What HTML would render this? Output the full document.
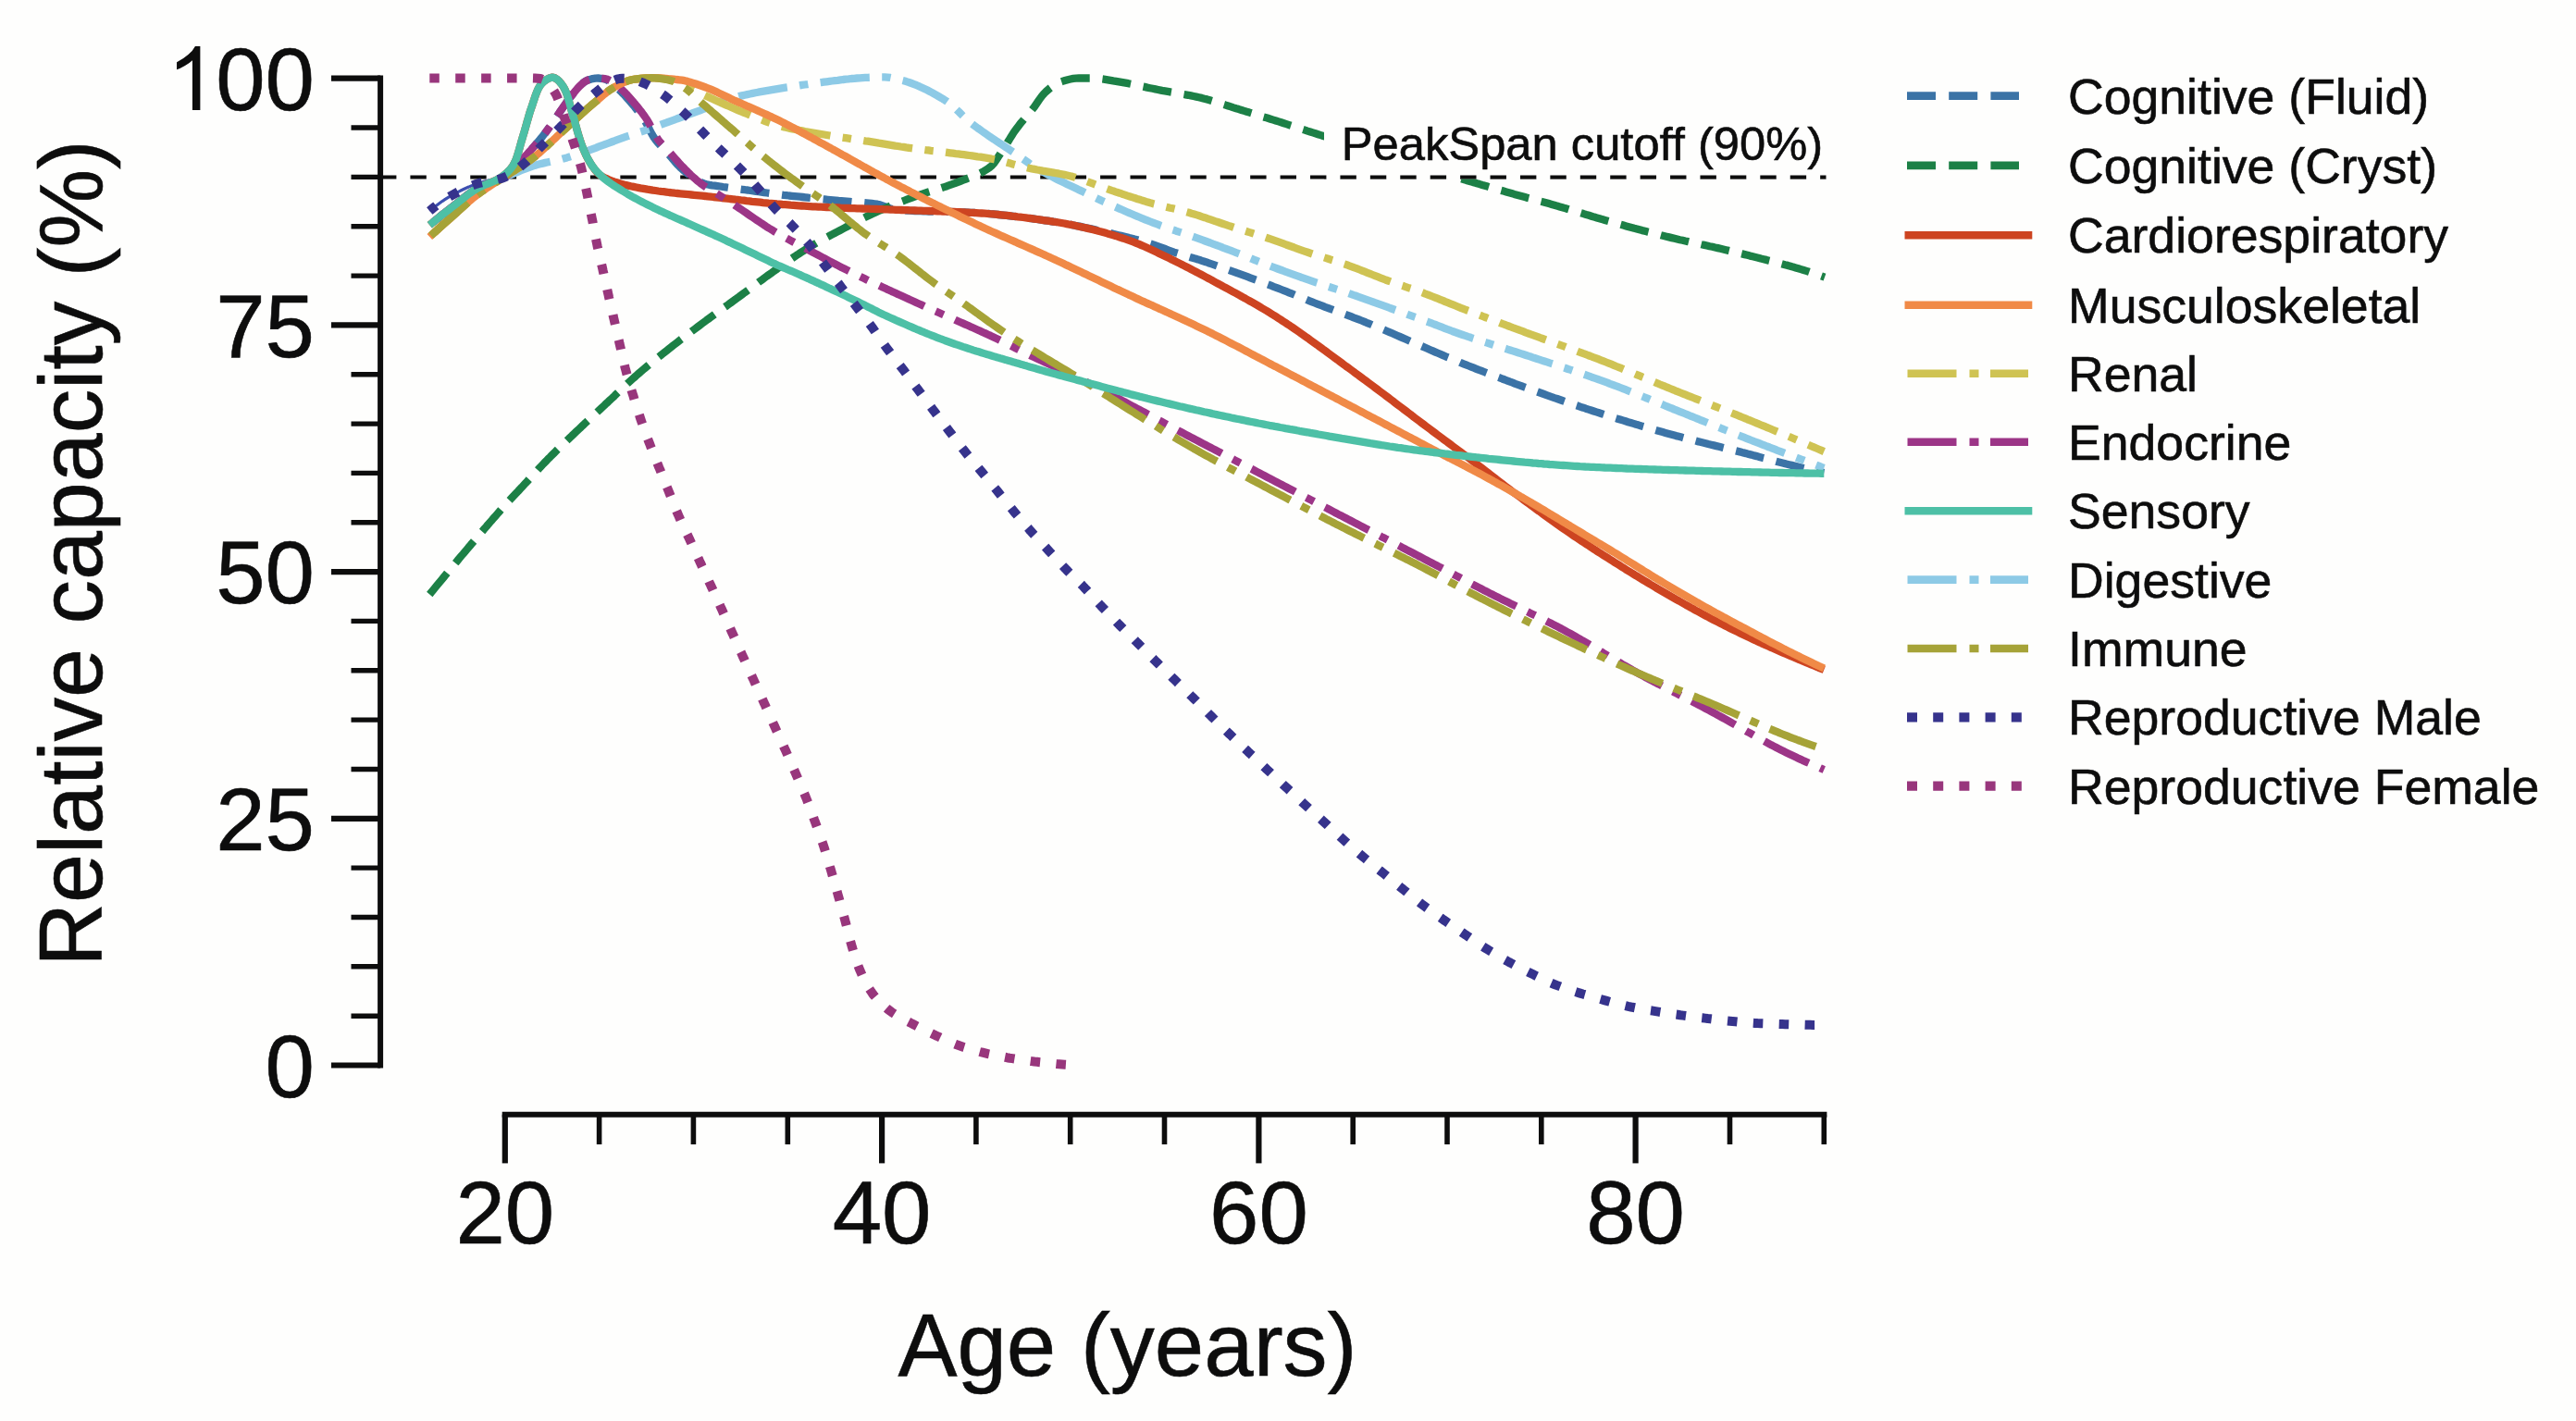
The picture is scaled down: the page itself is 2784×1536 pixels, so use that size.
<!DOCTYPE html>
<html><head><meta charset="utf-8"><title>Relative capacity by age</title>
<style>html,body{margin:0;padding:0;background:#FEFEFD;}svg{display:block;}text{font-family:"Liberation Sans",sans-serif;fill:#0d0d0d;stroke:#0d0d0d;stroke-width:0.6px;}</style>
</head><body>
<svg width="2784" height="1536" viewBox="0 0 2784 1536">
<rect x="0" y="0" width="2784" height="1536" fill="#FEFEFD"/>
<path d="M411,191.4 H1973.5" stroke="#0d0d0d" stroke-width="4" stroke-dasharray="17.4 15.02" fill="none"/>
<g fill="none" stroke-linejoin="round">
<path d="M464.3,228.0 L466.6,226.1 L468.9,224.3 L471.2,222.5 L473.6,220.7 L475.9,219.0 L478.3,217.3 L480.8,215.7 L483.2,214.2 L485.7,212.7 L488.2,211.2 L490.7,209.8 L493.3,208.4 L495.8,207.1 L498.5,205.8 L501.1,204.5 L503.8,203.2 L506.5,202.1 L509.2,200.9 L511.9,199.9 L514.6,198.9 L517.4,198.1 L520.1,197.2 L522.9,196.4 L525.7,195.6 L528.5,194.9 L531.4,194.2 L534.2,193.5 L537.1,192.9 L540.0,192.3 L542.9,191.8 L545.8,191.4" stroke="#3C4FB0" stroke-width="3.2"/>
<path d="M545.8,191.4 L547.9,189.3 L550.1,187.2 L552.2,185.1 L554.3,183.0 L556.4,180.8 L558.5,178.7 L560.6,176.5 L562.6,174.3 L564.7,172.1 L566.7,169.9 L568.7,167.7 L570.7,165.5 L572.7,163.3 L574.7,161.0 L576.7,158.8 L578.7,156.5 L580.6,154.2 L582.6,152.0 L584.5,149.6 L586.4,147.3 L588.2,145.0 L590.1,142.6 L591.8,140.2 L593.6,137.8 L595.3,135.4 L597.1,132.9 L598.8,130.4 L600.4,128.0 L602.1,125.5 L603.8,123.0 L605.5,120.5 L607.2,118.0 L608.9,115.5 L610.6,113.1 L612.3,110.6 L614.1,108.2 L615.9,105.8 L617.7,103.5 L619.6,101.1 L621.5,98.7 L623.4,96.4 L625.4,94.2 L627.5,92.1 L629.7,90.1 L632.1,88.2 L634.7,86.8 L637.5,85.9 L640.5,85.1 L643.5,84.6 L646.5,84.5 L649.5,84.8 L652.5,85.2 L655.2,86.0 L657.7,87.5 L660.2,89.4 L662.6,91.5 L664.9,93.3 L667.2,95.3 L669.4,97.3 L671.5,99.4 L673.6,101.5 L675.7,103.7 L677.7,106.0 L679.7,108.2 L681.7,110.5 L683.6,112.7 L685.6,115.0 L687.4,117.4 L689.3,119.8 L691.1,122.2 L692.9,124.6 L694.6,127.1 L696.2,129.6 L697.8,132.1 L699.3,134.7 L700.7,137.4 L702.0,140.1 L703.4,142.8 L704.8,145.4 L706.3,148.0 L708.0,150.4 L709.8,152.8 L711.7,155.0 L713.7,157.2 L715.8,159.4 L717.9,161.6 L720.0,163.8 L722.0,166.0 L723.9,168.3 L725.9,170.6 L727.8,172.9 L729.8,175.2 L731.8,177.5 L733.9,179.6 L736.0,181.7 L738.2,183.7 L740.5,185.6 L742.8,187.4 L745.3,189.1 L747.8,190.8 L750.3,192.5 L752.9,194.1 L755.4,195.7 L758.0,197.3 L760.7,198.4 L763.5,199.2 L766.4,199.8 L769.4,200.3 L772.4,200.7 L775.4,201.1 L778.4,201.5 L781.4,202.0 L784.4,202.4 L787.3,202.8 L790.3,203.2 L793.3,203.6 L796.2,204.0 L799.2,204.4 L802.2,204.8 L805.2,205.2 L808.1,205.5 L811.1,206.0 L814.1,206.4 L817.0,206.8 L820.0,207.2 L823.0,207.7 L825.9,208.1 L828.9,208.5 L831.8,208.9 L834.8,209.3 L837.8,209.7 L840.8,210.1 L843.7,210.4 L846.7,210.8 L849.7,211.1 L852.7,211.5 L855.6,211.8 L858.6,212.1 L861.6,212.4 L864.6,212.7 L867.6,213.0 L870.5,213.3 L873.5,213.7 L876.5,214.0 L879.5,214.3 L882.5,214.6 L885.4,214.9 L888.4,215.2 L891.4,215.5 L894.4,215.8 L897.4,216.1 L900.3,216.4 L903.3,216.7 L906.3,217.0 L909.3,217.2 L912.3,217.4 L915.3,217.6 L918.3,217.8 L921.3,218.1 L924.3,218.3 L927.3,218.5 L930.3,218.7 L933.3,219.0 L936.3,219.3 L939.2,219.6 L942.2,219.9 L945.1,220.3 L948.1,220.7 L951.0,221.4 L953.8,222.4 L956.7,223.4 L959.6,224.5 L962.4,225.4 L965.3,226.2 L968.2,226.7 L971.1,227.0 L974.1,227.2 L977.0,227.4 L980.0,227.5 L982.9,227.7 L985.9,227.8 L988.9,228.0 L991.9,228.1 L994.9,228.2 L997.9,228.3 L1000.9,228.4 L1003.9,228.5 L1006.9,228.5 L1009.9,228.6 L1012.9,228.7 L1015.9,228.7 L1018.9,228.8 L1021.9,228.9 L1025.0,228.9 L1028.0,229.0 L1031.0,229.1 L1034.0,229.2 L1037.0,229.3 L1040.0,229.4 L1043.0,229.5 L1046.0,229.6 L1049.0,229.8 L1052.0,229.9 L1055.0,230.1 L1058.0,230.3 L1061.0,230.5 L1063.9,230.7 L1066.9,230.9 L1069.9,231.2 L1072.9,231.4 L1075.9,231.7 L1078.9,232.0 L1081.9,232.3 L1084.8,232.6 L1087.8,232.9 L1090.8,233.3 L1093.8,233.6 L1096.8,234.0 L1099.7,234.3 L1102.7,234.7 L1105.7,235.1 L1108.7,235.4 L1111.6,235.8 L1114.6,236.2 L1117.6,236.6 L1120.6,237.0 L1123.5,237.5 L1126.5,237.9 L1129.5,238.3 L1132.4,238.7 L1135.4,239.1 L1138.3,239.6 L1141.3,240.0 L1144.3,240.5 L1147.2,241.0 L1150.2,241.5 L1153.1,242.1 L1156.0,242.6 L1159.0,243.2 L1161.9,243.8 L1164.9,244.3 L1167.8,244.9 L1170.7,245.6 L1173.7,246.2 L1176.6,246.8 L1179.5,247.4 L1182.5,248.0 L1185.4,248.7 L1188.3,249.3 L1191.2,250.0 L1194.2,250.7 L1197.1,251.4 L1200.0,252.0 L1202.9,252.8 L1205.8,253.5 L1208.7,254.2 L1211.6,254.9 L1214.5,255.6 L1217.5,256.3 L1220.4,257.1 L1223.3,257.8 L1226.2,258.6 L1229.1,259.3 L1232.0,260.1 L1234.8,260.9 L1237.7,261.7 L1240.6,262.6 L1243.4,263.5 L1246.3,264.4 L1249.1,265.4 L1251.9,266.4 L1254.7,267.4 L1257.6,268.5 L1260.4,269.5 L1263.2,270.6 L1266.0,271.6 L1268.8,272.6 L1271.7,273.5 L1274.5,274.4 L1277.4,275.3 L1280.3,276.2 L1283.1,277.0 L1286.0,277.9 L1288.9,278.7 L1291.8,279.6 L1294.6,280.4 L1297.5,281.3 L1300.3,282.3 L1303.2,283.2 L1306.0,284.2 L1308.8,285.1 L1311.7,286.1 L1314.5,287.1 L1317.3,288.1 L1320.2,289.1 L1323.0,290.1 L1325.8,291.1 L1328.6,292.1 L1331.4,293.1 L1334.3,294.1 L1337.1,295.2 L1339.9,296.2 L1342.7,297.2 L1345.5,298.2 L1348.3,299.2 L1351.2,300.3 L1354.0,301.3 L1356.8,302.4 L1359.6,303.4 L1362.4,304.5 L1365.2,305.5 L1368.0,306.6 L1370.8,307.6 L1373.6,308.7 L1376.4,309.8 L1379.2,310.8 L1382.0,311.9 L1384.8,313.0 L1387.6,314.1 L1390.4,315.2 L1393.1,316.3 L1395.9,317.4 L1398.7,318.5 L1401.5,319.7 L1404.2,320.8 L1407.0,321.9 L1409.8,323.0 L1412.6,324.2 L1415.4,325.3 L1418.1,326.4 L1420.9,327.5 L1423.7,328.6 L1426.5,329.7 L1429.3,330.7 L1432.1,331.8 L1434.9,332.8 L1437.7,333.9 L1440.5,334.9 L1443.4,336.0 L1446.2,337.0 L1449.0,338.0 L1451.8,339.1 L1454.6,340.1 L1457.4,341.1 L1460.2,342.2 L1463.0,343.3 L1465.8,344.3 L1468.6,345.4 L1471.4,346.5 L1474.2,347.6 L1476.9,348.8 L1479.7,349.9 L1482.5,351.0 L1485.2,352.2 L1488.0,353.3 L1490.8,354.5 L1493.5,355.6 L1496.3,356.8 L1499.1,358.0 L1501.8,359.1 L1504.6,360.3 L1507.3,361.5 L1510.1,362.7 L1512.8,363.9 L1515.6,365.1 L1518.3,366.3 L1521.1,367.5 L1523.8,368.7 L1526.6,369.9 L1529.3,371.1 L1532.1,372.3 L1534.8,373.4 L1537.6,374.6 L1540.3,375.8 L1543.1,377.0 L1545.8,378.2 L1548.6,379.4 L1551.3,380.6 L1554.1,381.8 L1556.8,382.9 L1559.6,384.1 L1562.3,385.3 L1565.1,386.4 L1567.9,387.6 L1570.6,388.8 L1573.4,389.9 L1576.2,391.0 L1578.9,392.2 L1581.7,393.3 L1584.5,394.4 L1587.3,395.5 L1590.1,396.6 L1592.9,397.7 L1595.6,398.8 L1598.4,399.9 L1601.2,400.9 L1604.0,402.0 L1606.8,403.1 L1609.6,404.2 L1612.4,405.2 L1615.2,406.3 L1618.0,407.4 L1620.8,408.4 L1623.6,409.5 L1626.4,410.5 L1629.2,411.6 L1632.0,412.7 L1634.8,413.7 L1637.6,414.8 L1640.5,415.8 L1643.3,416.8 L1646.1,417.9 L1648.9,418.9 L1651.7,419.9 L1654.5,421.0 L1657.3,422.0 L1660.2,423.0 L1663.0,424.0 L1665.8,425.0 L1668.6,426.0 L1671.5,427.1 L1674.3,428.1 L1677.1,429.1 L1679.9,430.1 L1682.8,431.0 L1685.6,432.0 L1688.4,433.0 L1691.2,434.0 L1694.1,435.0 L1696.9,435.9 L1699.7,436.9 L1702.6,437.9 L1705.4,438.8 L1708.3,439.8 L1711.1,440.7 L1713.9,441.7 L1716.8,442.6 L1719.6,443.5 L1722.5,444.5 L1725.3,445.4 L1728.2,446.3 L1731.0,447.2 L1733.9,448.1 L1736.7,449.1 L1739.6,450.0 L1742.4,450.9 L1745.3,451.8 L1748.2,452.7 L1751.0,453.5 L1753.9,454.4 L1756.8,455.3 L1759.6,456.2 L1762.5,457.0 L1765.4,457.9 L1768.2,458.8 L1771.1,459.6 L1774.0,460.5 L1776.9,461.3 L1779.7,462.2 L1782.6,463.0 L1785.5,463.8 L1788.4,464.7 L1791.2,465.5 L1794.1,466.3 L1797.0,467.1 L1799.9,467.9 L1802.8,468.7 L1805.7,469.5 L1808.6,470.3 L1811.4,471.1 L1814.3,471.8 L1817.2,472.6 L1820.1,473.4 L1823.0,474.1 L1825.9,474.9 L1828.8,475.6 L1831.7,476.3 L1834.6,477.1 L1837.5,477.8 L1840.5,478.5 L1843.4,479.2 L1846.3,480.0 L1849.2,480.7 L1852.1,481.4 L1855.0,482.1 L1857.9,482.8 L1860.8,483.6 L1863.7,484.3 L1866.6,485.0 L1869.5,485.7 L1872.5,486.4 L1875.4,487.2 L1878.3,487.9 L1881.2,488.6 L1884.1,489.4 L1887.0,490.1 L1889.9,490.9 L1892.8,491.6 L1895.7,492.4 L1898.6,493.1 L1901.5,493.9 L1904.4,494.7 L1907.3,495.4 L1910.2,496.2 L1913.1,497.0 L1915.9,497.7 L1918.8,498.5 L1921.7,499.3 L1924.6,500.0 L1927.6,500.7 L1930.5,501.5 L1933.4,502.2 L1936.3,502.9 L1939.2,503.6 L1942.1,504.3 L1945.0,505.0 L1947.9,505.7 L1950.8,506.4 L1953.8,507.0 L1956.7,507.7 L1959.6,508.4 L1962.5,509.0 L1965.4,509.7 L1968.4,510.4 L1971.3,511.0" stroke="#3B73A6" stroke-width="8.3" stroke-dasharray="31 13.8" stroke-dashoffset="3"/>
<path d="M464.3,642.5 L466.2,640.2 L468.1,637.9 L470.0,635.5 L471.9,633.2 L473.8,630.9 L475.7,628.6 L477.6,626.3 L479.5,624.0 L481.4,621.7 L483.3,619.3 L485.2,617.0 L487.1,614.7 L489.0,612.4 L491.0,610.1 L492.9,607.8 L494.8,605.5 L496.7,603.2 L498.6,600.9 L500.6,598.6 L502.5,596.3 L504.4,594.1 L506.3,591.8 L508.3,589.5 L510.2,587.2 L512.2,584.9 L514.1,582.6 L516.0,580.4 L518.0,578.1 L519.9,575.8 L521.9,573.5 L523.8,571.2 L525.8,569.0 L527.7,566.7 L529.7,564.4 L531.7,562.2 L533.6,559.9 L535.6,557.7 L537.6,555.4 L539.5,553.2 L541.5,550.9 L543.5,548.7 L545.5,546.5 L547.5,544.2 L549.6,542.0 L551.6,539.8 L553.6,537.6 L555.7,535.4 L557.7,533.2 L559.8,531.1 L561.8,528.9 L563.9,526.7 L565.9,524.5 L567.9,522.3 L570.0,520.1 L572.0,517.9 L574.1,515.7 L576.1,513.5 L578.1,511.3 L580.1,509.1 L582.1,506.9 L584.2,504.7 L586.2,502.5 L588.3,500.3 L590.4,498.2 L592.4,496.0 L594.6,493.9 L596.7,491.8 L598.8,489.7 L600.9,487.6 L603.1,485.5 L605.2,483.4 L607.4,481.3 L609.5,479.2 L611.7,477.2 L613.9,475.1 L616.0,473.0 L618.2,470.9 L620.4,468.9 L622.5,466.8 L624.7,464.7 L626.9,462.7 L629.0,460.6 L631.2,458.6 L633.4,456.5 L635.6,454.5 L637.8,452.4 L640.0,450.4 L642.2,448.3 L644.4,446.3 L646.6,444.3 L648.8,442.2 L650.9,440.2 L653.1,438.2 L655.3,436.1 L657.5,434.1 L659.7,432.0 L661.9,430.0 L664.1,427.9 L666.2,425.8 L668.4,423.8 L670.6,421.7 L672.8,419.7 L674.9,417.6 L677.1,415.5 L679.3,413.5 L681.5,411.5 L683.7,409.5 L686.0,407.5 L688.2,405.5 L690.5,403.5 L692.7,401.6 L695.0,399.6 L697.3,397.7 L699.6,395.8 L701.9,393.9 L704.2,392.0 L706.6,390.1 L708.9,388.2 L711.2,386.3 L713.6,384.5 L715.9,382.6 L718.3,380.7 L720.6,378.9 L723.0,377.0 L725.3,375.2 L727.7,373.3 L730.1,371.5 L732.4,369.7 L734.8,367.8 L737.2,366.0 L739.5,364.2 L741.9,362.4 L744.3,360.6 L746.7,358.8 L749.1,357.0 L751.5,355.2 L753.9,353.4 L756.3,351.6 L758.7,349.8 L761.1,348.0 L763.5,346.2 L765.9,344.5 L768.4,342.7 L770.8,340.9 L773.2,339.2 L775.6,337.4 L778.1,335.7 L780.5,333.9 L782.9,332.2 L785.4,330.5 L787.8,328.7 L790.2,327.0 L792.7,325.2 L795.1,323.4 L797.5,321.7 L799.9,319.9 L802.3,318.1 L804.7,316.3 L807.1,314.6 L809.6,312.8 L812.0,311.0 L814.4,309.2 L816.8,307.4 L819.2,305.6 L821.6,303.8 L824.0,302.1 L826.4,300.3 L828.8,298.5 L831.3,296.8 L833.7,295.1 L836.1,293.3 L838.6,291.6 L841.0,289.8 L843.5,288.1 L845.9,286.4 L848.4,284.6 L850.8,282.9 L853.3,281.2 L855.7,279.5 L858.2,277.8 L860.7,276.1 L863.2,274.5 L865.7,272.8 L868.2,271.2 L870.8,269.6 L873.3,268.1 L875.9,266.5 L878.4,265.0 L881.0,263.5 L883.6,262.0 L886.2,260.6 L888.9,259.1 L891.5,257.7 L894.1,256.2 L896.8,254.8 L899.4,253.4 L902.1,252.0 L904.7,250.6 L907.4,249.2 L910.0,247.8 L912.7,246.4 L915.3,245.0 L918.0,243.6 L920.6,242.2 L923.3,240.8 L925.9,239.5 L928.6,238.1 L931.3,236.8 L934.0,235.4 L936.7,234.1 L939.4,232.8 L942.1,231.5 L944.8,230.3 L947.5,229.0 L950.2,227.8 L953.0,226.6 L955.7,225.4 L958.5,224.3 L961.3,223.1 L964.0,222.0 L966.8,220.9 L969.6,219.7 L972.4,218.6 L975.2,217.6 L978.0,216.5 L980.8,215.4 L983.6,214.4 L986.4,213.3 L989.2,212.3 L992.0,211.3 L994.8,210.3 L997.7,209.3 L1000.5,208.4 L1003.4,207.5 L1006.3,206.6 L1009.1,205.7 L1012.0,204.8 L1014.9,203.9 L1017.7,203.0 L1020.6,202.1 L1023.4,201.2 L1026.2,200.2 L1029.1,199.2 L1031.9,198.2 L1034.6,197.1 L1037.5,196.0 L1040.3,194.9 L1043.2,193.9 L1046.1,192.7 L1049.0,191.6 L1051.9,190.5 L1054.8,189.3 L1057.6,188.0 L1060.3,186.7 L1062.9,185.3 L1065.4,183.8 L1067.8,182.3 L1070.0,180.6 L1072.1,178.8 L1074.0,176.7 L1075.8,174.3 L1077.5,171.7 L1079.2,169.1 L1080.9,166.5 L1082.6,163.9 L1084.3,161.5 L1085.9,159.0 L1087.5,156.4 L1089.0,153.8 L1090.6,151.3 L1092.1,148.7 L1093.7,146.2 L1095.3,143.6 L1097.0,141.2 L1098.8,138.8 L1100.6,136.4 L1102.4,134.0 L1104.3,131.7 L1106.3,129.4 L1108.2,127.2 L1110.2,124.9 L1112.1,122.6 L1114.1,120.3 L1115.9,118.0 L1117.8,115.6 L1119.5,113.1 L1121.2,110.6 L1122.9,108.1 L1124.7,105.6 L1126.5,103.2 L1128.4,101.1 L1130.5,99.0 L1132.8,97.0 L1135.1,95.0 L1137.6,93.2 L1140.2,91.5 L1142.8,90.0 L1145.5,88.8 L1148.2,87.9 L1151.0,87.0 L1153.9,86.2 L1156.9,85.5 L1159.9,84.9 L1162.9,84.6 L1165.9,84.5 L1168.9,84.5 L1171.9,84.5 L1174.9,84.5 L1177.9,84.5 L1180.9,84.5 L1183.9,84.6 L1186.8,84.8 L1189.8,85.2 L1192.8,85.6 L1195.8,86.1 L1198.7,86.6 L1201.7,87.1 L1204.7,87.7 L1207.6,88.2 L1210.6,88.7 L1213.5,89.2 L1216.5,89.7 L1219.4,90.2 L1222.3,90.8 L1225.3,91.4 L1228.2,92.0 L1231.1,92.7 L1234.1,93.3 L1237.0,93.9 L1239.9,94.6 L1242.8,95.2 L1245.8,95.8 L1248.7,96.4 L1251.6,97.0 L1254.6,97.6 L1257.5,98.2 L1260.5,98.7 L1263.4,99.2 L1266.4,99.7 L1269.3,100.2 L1272.3,100.8 L1275.3,101.3 L1278.2,101.8 L1281.2,102.3 L1284.1,102.8 L1287.1,103.4 L1290.0,104.0 L1292.9,104.6 L1295.8,105.2 L1298.7,105.9 L1301.6,106.7 L1304.5,107.4 L1307.4,108.2 L1310.3,109.1 L1313.1,109.9 L1316.0,110.8 L1318.8,111.7 L1321.7,112.7 L1324.6,113.6 L1327.4,114.5 L1330.3,115.4 L1333.1,116.4 L1336.0,117.3 L1338.9,118.1 L1341.7,119.0 L1344.6,119.9 L1347.4,120.8 L1350.3,121.6 L1353.2,122.5 L1356.0,123.4 L1358.9,124.3 L1361.8,125.2 L1364.6,126.1 L1367.5,126.9 L1370.3,127.8 L1373.2,128.7 L1376.1,129.6 L1378.9,130.5 L1381.8,131.4 L1384.6,132.3 L1387.5,133.2 L1390.3,134.1 L1393.2,135.1 L1396.0,136.0 L1398.9,136.9 L1401.7,137.8 L1404.6,138.8 L1407.4,139.7 L1410.3,140.6 L1413.1,141.6 L1416.0,142.5 L1418.8,143.4 L1421.7,144.3 L1424.5,145.2 L1427.4,146.1 L1430.2,147.0 L1433.1,147.9 L1436.0,148.8 L1438.8,149.7 L1441.7,150.6 L1444.5,151.5 L1447.4,152.4 L1450.2,153.3 L1453.1,154.2 L1455.9,155.1 L1458.8,156.0 L1461.7,156.9 L1464.5,157.8 L1467.4,158.7 L1470.2,159.6 L1473.1,160.5 L1475.9,161.4 L1478.8,162.3 L1481.7,163.2 L1484.5,164.1 L1487.4,165.0 L1490.2,165.9 L1493.1,166.8 L1496.0,167.7 L1498.8,168.6 L1501.7,169.5 L1504.5,170.4 L1507.4,171.3 L1510.3,172.2 L1513.1,173.1 L1516.0,173.9 L1518.8,174.8 L1521.7,175.7 L1524.6,176.6 L1527.4,177.5 L1530.3,178.4 L1533.1,179.2 L1536.0,180.1 L1538.9,181.0 L1541.7,181.9 L1544.6,182.8 L1547.5,183.6 L1550.3,184.5 L1553.2,185.4 L1556.1,186.2 L1558.9,187.1 L1561.8,188.0 L1564.7,188.8 L1567.5,189.7 L1570.4,190.6 L1573.3,191.4 L1576.1,192.3 L1579.0,193.2 L1581.9,194.0 L1584.7,194.9 L1587.6,195.7 L1590.5,196.6 L1593.4,197.4 L1596.2,198.3 L1599.1,199.1 L1602.0,200.0 L1604.8,200.8 L1607.7,201.6 L1610.6,202.5 L1613.5,203.3 L1616.4,204.1 L1619.2,205.0 L1622.1,205.8 L1625.0,206.6 L1627.9,207.4 L1630.8,208.2 L1633.6,209.0 L1636.5,209.9 L1639.4,210.7 L1642.3,211.5 L1645.2,212.3 L1648.1,213.1 L1651.0,213.9 L1653.9,214.6 L1656.7,215.4 L1659.6,216.2 L1662.5,217.0 L1665.4,217.8 L1668.3,218.5 L1671.2,219.3 L1674.1,220.1 L1677.0,220.9 L1679.9,221.7 L1682.7,222.6 L1685.6,223.4 L1688.5,224.2 L1691.4,225.1 L1694.2,225.9 L1697.1,226.8 L1700.0,227.6 L1702.8,228.5 L1705.7,229.4 L1708.6,230.3 L1711.4,231.1 L1714.3,232.0 L1717.2,232.8 L1720.0,233.7 L1722.9,234.6 L1725.8,235.4 L1728.7,236.2 L1731.5,237.1 L1734.4,237.9 L1737.3,238.7 L1740.2,239.5 L1743.1,240.4 L1745.9,241.2 L1748.8,242.0 L1751.7,242.8 L1754.6,243.6 L1757.5,244.4 L1760.4,245.2 L1763.3,246.0 L1766.2,246.8 L1769.0,247.5 L1771.9,248.3 L1774.8,249.1 L1777.7,249.8 L1780.6,250.6 L1783.5,251.3 L1786.4,252.1 L1789.3,252.8 L1792.2,253.5 L1795.1,254.3 L1798.1,255.0 L1801.0,255.7 L1803.9,256.4 L1806.8,257.1 L1809.7,257.8 L1812.6,258.5 L1815.5,259.2 L1818.5,259.8 L1821.4,260.5 L1824.3,261.1 L1827.2,261.8 L1830.2,262.4 L1833.1,263.0 L1836.0,263.6 L1838.9,264.3 L1841.9,264.9 L1844.8,265.5 L1847.7,266.2 L1850.7,266.8 L1853.6,267.5 L1856.5,268.1 L1859.4,268.8 L1862.3,269.5 L1865.2,270.2 L1868.2,270.9 L1871.1,271.6 L1874.0,272.3 L1876.9,273.0 L1879.8,273.7 L1882.7,274.4 L1885.6,275.1 L1888.5,275.8 L1891.4,276.6 L1894.3,277.3 L1897.2,278.0 L1900.2,278.7 L1903.1,279.5 L1906.0,280.2 L1908.9,280.9 L1911.8,281.7 L1914.7,282.4 L1917.6,283.1 L1920.5,283.9 L1923.4,284.6 L1926.3,285.4 L1929.2,286.2 L1932.1,286.9 L1935.0,287.7 L1937.8,288.6 L1940.7,289.4 L1943.6,290.2 L1946.4,291.1 L1949.3,292.0 L1952.2,292.9 L1955.0,293.8 L1957.9,294.8 L1960.7,295.7 L1963.5,296.7 L1966.4,297.7 L1969.2,298.7 L1972.0,299.7" stroke="#1C8046" stroke-width="8.3" stroke-dasharray="31 13.8" stroke-dashoffset="1"/>
<path d="M464.3,243.3 L466.6,241.4 L468.9,239.5 L471.2,237.6 L473.6,235.7 L475.9,233.8 L478.2,231.9 L480.6,230.1 L482.9,228.2 L485.3,226.4 L487.7,224.5 L490.0,222.7 L492.4,220.9 L494.8,219.0 L497.1,217.1 L499.5,215.2 L501.8,213.3 L504.2,211.5 L506.6,209.6 L509.0,207.9 L511.5,206.3 L514.0,204.7 L516.6,203.3 L519.2,202.0 L521.9,200.7 L524.6,199.5 L527.4,198.4 L530.2,197.3 L533.0,196.2 L535.9,195.2 L538.7,194.1 L541.5,193.0 L544.3,192.0 L547.1,190.9 L549.9,189.7 L552.7,188.6 L555.5,187.4 L558.2,186.3 L561.0,185.1 L563.8,184.0 L566.6,182.9 L569.4,181.8 L572.2,180.8 L575.0,179.8 L577.8,178.9 L580.7,178.1 L583.6,177.3 L586.5,176.6 L589.4,175.9 L592.3,175.3 L595.3,174.7 L598.2,174.0 L601.1,173.4 L604.1,172.7 L607.0,172.0 L609.8,171.2 L612.7,170.4 L615.6,169.5 L618.4,168.6 L621.3,167.7 L624.1,166.7 L626.9,165.7 L629.8,164.8 L632.6,163.8 L635.4,162.8 L638.3,161.8 L641.1,160.8 L643.9,159.8 L646.7,158.7 L649.5,157.7 L652.3,156.7 L655.1,155.6 L657.9,154.6 L660.8,153.5 L663.6,152.5 L666.4,151.4 L669.2,150.4 L672.0,149.4 L674.8,148.4 L677.6,147.4 L680.5,146.5 L683.3,145.5 L686.2,144.6 L689.0,143.7 L691.9,142.7 L694.7,141.8 L697.5,140.8 L700.4,139.8 L703.2,138.8 L706.0,137.8 L708.8,136.8 L711.6,135.8 L714.5,134.7 L717.3,133.7 L720.1,132.7 L722.9,131.6 L725.7,130.6 L728.5,129.6 L731.3,128.5 L734.1,127.5 L736.9,126.5 L739.8,125.4 L742.6,124.4 L745.4,123.4 L748.2,122.4 L751.0,121.3 L753.8,120.3 L756.6,119.3 L759.4,118.2 L762.2,117.1 L765.0,116.0 L767.8,114.9 L770.6,113.8 L773.5,112.7 L776.3,111.6 L779.1,110.6 L781.9,109.5 L784.7,108.5 L787.5,107.5 L790.4,106.6 L793.2,105.7 L796.1,104.9 L798.9,104.1 L801.8,103.4 L804.7,102.7 L807.6,102.1 L810.5,101.5 L813.5,100.9 L816.4,100.3 L819.4,99.7 L822.3,99.2 L825.3,98.7 L828.2,98.2 L831.2,97.7 L834.1,97.2 L837.1,96.7 L840.1,96.2 L843.0,95.7 L846.0,95.2 L849.0,94.7 L851.9,94.3 L854.9,93.8 L857.8,93.3 L860.8,92.8 L863.7,92.4 L866.7,91.9 L869.7,91.5 L872.6,91.1 L875.6,90.6 L878.6,90.2 L881.5,89.8 L884.5,89.5 L887.5,89.1 L890.4,88.7 L893.4,88.3 L896.4,87.9 L899.4,87.5 L902.3,87.1 L905.3,86.8 L908.3,86.4 L911.3,86.0 L914.2,85.7 L917.2,85.4 L920.2,85.0 L923.2,84.8 L926.2,84.5 L929.1,84.3 L932.1,84.1 L935.1,83.9 L938.1,83.8 L941.1,83.7 L944.1,83.6 L947.1,83.5 L950.1,83.5 L953.1,83.4 L956.1,83.4 L959.0,83.6 L962.0,83.9 L965.0,84.5 L968.0,85.2 L970.9,85.9 L973.7,86.6 L976.6,87.3 L979.4,88.1 L982.3,89.0 L985.1,90.0 L988.0,91.1 L990.8,92.2 L993.6,93.4 L996.4,94.7 L999.1,96.0 L1001.9,97.3 L1004.6,98.7 L1007.3,100.1 L1009.9,101.6 L1012.6,103.1 L1015.1,104.6 L1017.7,106.1 L1020.2,107.6 L1022.6,109.2 L1025.0,110.9 L1027.3,112.7 L1029.6,114.6 L1031.8,116.6 L1034.0,118.7 L1036.2,120.8 L1038.4,123.0 L1040.5,125.1 L1042.7,127.2 L1045.0,129.2 L1047.2,131.2 L1049.6,133.1 L1051.9,134.9 L1054.3,136.7 L1056.7,138.5 L1059.1,140.2 L1061.6,142.0 L1064.0,143.7 L1066.5,145.4 L1068.9,147.1 L1071.4,148.8 L1073.9,150.4 L1076.4,152.1 L1078.9,153.8 L1081.4,155.4 L1083.9,157.1 L1086.4,158.7 L1088.9,160.4 L1091.4,162.1 L1093.9,163.8 L1096.4,165.4 L1098.8,167.2 L1101.3,168.9 L1103.7,170.6 L1106.2,172.3 L1108.7,174.0 L1111.2,175.7 L1113.6,177.4 L1116.1,179.0 L1118.7,180.6 L1121.2,182.2 L1123.8,183.8 L1126.3,185.2 L1128.9,186.7 L1131.5,188.1 L1134.2,189.6 L1136.8,190.9 L1139.5,192.3 L1142.2,193.7 L1144.8,195.0 L1147.5,196.3 L1150.2,197.6 L1152.9,198.9 L1155.7,200.2 L1158.4,201.5 L1161.1,202.8 L1163.8,204.1 L1166.5,205.4 L1169.2,206.6 L1171.9,207.9 L1174.6,209.2 L1177.3,210.5 L1180.0,211.8 L1182.7,213.1 L1185.4,214.4 L1188.1,215.7 L1190.8,217.0 L1193.5,218.2 L1196.3,219.5 L1199.0,220.7 L1201.7,222.0 L1204.5,223.2 L1207.2,224.4 L1209.9,225.6 L1212.7,226.8 L1215.4,228.0 L1218.2,229.2 L1220.9,230.4 L1223.7,231.5 L1226.4,232.7 L1229.2,233.9 L1232.0,235.0 L1234.7,236.2 L1237.5,237.3 L1240.3,238.4 L1243.1,239.5 L1245.9,240.6 L1248.7,241.7 L1251.5,242.7 L1254.3,243.8 L1257.1,244.8 L1259.9,245.8 L1262.7,246.8 L1265.5,247.8 L1268.4,248.7 L1271.2,249.7 L1274.1,250.6 L1276.9,251.5 L1279.8,252.5 L1282.6,253.4 L1285.4,254.4 L1288.3,255.4 L1291.1,256.4 L1293.9,257.4 L1296.7,258.4 L1299.5,259.4 L1302.4,260.5 L1305.2,261.5 L1308.0,262.5 L1310.8,263.6 L1313.6,264.6 L1316.4,265.7 L1319.2,266.7 L1322.0,267.8 L1324.8,268.8 L1327.6,269.9 L1330.4,270.9 L1333.2,272.0 L1336.0,273.1 L1338.8,274.1 L1341.6,275.2 L1344.4,276.3 L1347.2,277.4 L1349.9,278.5 L1352.7,279.7 L1355.5,280.8 L1358.3,281.9 L1361.1,283.0 L1363.9,284.1 L1366.6,285.2 L1369.4,286.3 L1372.2,287.3 L1375.0,288.4 L1377.8,289.4 L1380.7,290.5 L1383.5,291.5 L1386.3,292.5 L1389.1,293.6 L1391.9,294.6 L1394.7,295.6 L1397.5,296.6 L1400.3,297.6 L1403.2,298.6 L1406.0,299.7 L1408.8,300.6 L1411.6,301.6 L1414.5,302.6 L1417.3,303.6 L1420.1,304.6 L1423.0,305.6 L1425.8,306.5 L1428.6,307.5 L1431.5,308.4 L1434.3,309.4 L1437.2,310.3 L1440.0,311.2 L1442.9,312.2 L1445.7,313.1 L1448.5,314.0 L1451.4,315.0 L1454.2,315.9 L1457.1,316.9 L1459.9,317.9 L1462.7,318.9 L1465.5,319.8 L1468.4,320.8 L1471.2,321.8 L1474.0,322.8 L1476.8,323.8 L1479.7,324.8 L1482.5,325.8 L1485.3,326.9 L1488.1,327.9 L1490.9,328.9 L1493.8,329.9 L1496.6,330.9 L1499.4,331.9 L1502.2,333.0 L1505.0,334.0 L1507.8,335.0 L1510.7,336.0 L1513.5,337.0 L1516.3,338.0 L1519.1,339.0 L1521.9,340.1 L1524.7,341.1 L1527.5,342.1 L1530.4,343.1 L1533.2,344.2 L1536.0,345.2 L1538.8,346.2 L1541.6,347.3 L1544.4,348.3 L1547.2,349.4 L1550.0,350.5 L1552.8,351.5 L1555.6,352.6 L1558.4,353.7 L1561.2,354.8 L1564.0,355.9 L1566.8,356.9 L1569.6,358.0 L1572.4,359.0 L1575.2,360.0 L1578.0,361.0 L1580.9,362.0 L1583.7,362.9 L1586.5,363.9 L1589.4,364.8 L1592.2,365.8 L1595.1,366.7 L1597.9,367.6 L1600.8,368.5 L1603.6,369.5 L1606.5,370.4 L1609.3,371.3 L1612.2,372.2 L1615.0,373.1 L1617.9,374.0 L1620.7,374.9 L1623.6,375.8 L1626.5,376.7 L1629.3,377.6 L1632.2,378.5 L1635.0,379.4 L1637.9,380.3 L1640.7,381.2 L1643.6,382.1 L1646.4,383.0 L1649.3,384.0 L1652.1,384.9 L1655.0,385.8 L1657.8,386.8 L1660.7,387.7 L1663.5,388.6 L1666.4,389.6 L1669.2,390.5 L1672.1,391.4 L1674.9,392.4 L1677.7,393.3 L1680.6,394.2 L1683.4,395.2 L1686.3,396.1 L1689.1,397.1 L1692.0,398.0 L1694.8,399.0 L1697.7,399.9 L1700.5,400.9 L1703.3,401.8 L1706.2,402.8 L1709.0,403.7 L1711.8,404.7 L1714.7,405.7 L1717.5,406.7 L1720.3,407.7 L1723.1,408.6 L1726.0,409.6 L1728.8,410.7 L1731.6,411.7 L1734.4,412.7 L1737.2,413.7 L1740.0,414.8 L1742.8,415.8 L1745.6,416.9 L1748.4,417.9 L1751.2,419.0 L1754.0,420.1 L1756.8,421.2 L1759.6,422.3 L1762.4,423.4 L1765.1,424.5 L1767.9,425.6 L1770.7,426.7 L1773.5,427.9 L1776.3,429.0 L1779.0,430.1 L1781.8,431.2 L1784.6,432.4 L1787.4,433.5 L1790.1,434.6 L1792.9,435.8 L1795.7,436.9 L1798.4,438.0 L1801.2,439.2 L1804.0,440.3 L1806.8,441.4 L1809.5,442.6 L1812.3,443.7 L1815.1,444.8 L1817.9,445.9 L1820.7,447.0 L1823.4,448.1 L1826.2,449.3 L1829.0,450.4 L1831.8,451.5 L1834.5,452.6 L1837.3,453.8 L1840.1,454.9 L1842.9,456.0 L1845.6,457.1 L1848.4,458.3 L1851.2,459.4 L1854.0,460.5 L1856.7,461.6 L1859.5,462.7 L1862.3,463.9 L1865.1,465.0 L1867.9,466.1 L1870.6,467.2 L1873.4,468.3 L1876.2,469.4 L1879.0,470.5 L1881.8,471.6 L1884.6,472.7 L1887.4,473.8 L1890.1,474.9 L1892.9,476.0 L1895.7,477.1 L1898.5,478.1 L1901.3,479.2 L1904.1,480.3 L1906.9,481.4 L1909.7,482.5 L1912.5,483.5 L1915.3,484.6 L1918.1,485.7 L1920.9,486.8 L1923.7,487.8 L1926.5,488.9 L1929.3,490.0 L1932.1,491.0 L1934.9,492.1 L1937.7,493.2 L1940.5,494.2 L1943.3,495.3 L1946.1,496.4 L1948.9,497.4 L1951.7,498.5 L1954.5,499.5 L1957.3,500.6 L1960.1,501.6 L1962.9,502.7 L1965.7,503.7 L1968.5,504.8 L1971.3,505.8" stroke="#8DCAE6" stroke-width="8.3" stroke-dasharray="53.5 13.4 9.4 13.4" stroke-dashoffset="-6"/>
<path d="M464.3,256.0 L466.5,254.0 L468.7,252.0 L470.9,250.0 L473.2,247.9 L475.4,245.9 L477.6,243.9 L479.9,241.9 L482.1,239.9 L484.3,238.0 L486.6,236.0 L488.8,234.0 L491.0,232.0 L493.3,230.0 L495.5,228.0 L497.7,226.0 L500.0,223.9 L502.2,221.9 L504.4,219.9 L506.7,217.9 L508.9,216.0 L511.2,214.1 L513.5,212.2 L515.9,210.4 L518.3,208.6 L520.7,206.9 L523.2,205.2 L525.7,203.5 L528.2,201.9 L530.7,200.3 L533.3,198.6 L535.8,197.0 L538.3,195.4 L540.8,193.8 L543.3,192.1 L545.9,190.5 L548.4,188.9 L551.0,187.3 L553.5,185.8 L556.1,184.2 L558.6,182.6 L561.2,181.0 L563.7,179.4 L566.2,177.8 L568.7,176.1 L571.1,174.4 L573.6,172.7 L575.9,170.9 L578.3,169.0 L580.6,167.1 L582.8,165.2 L585.1,163.2 L587.3,161.3 L589.5,159.2 L591.7,157.2 L593.9,155.1 L596.1,153.1 L598.3,151.0 L600.5,148.9 L602.7,146.9 L604.9,144.8 L607.1,142.8 L609.3,140.8 L611.5,138.7 L613.7,136.7 L615.9,134.7 L618.1,132.7 L620.3,130.6 L622.5,128.6 L624.7,126.6 L626.9,124.5 L629.1,122.5 L631.4,120.5 L633.6,118.5 L635.8,116.5 L638.1,114.6 L640.4,112.6 L642.7,110.7 L645.0,108.8 L647.3,106.8 L649.6,104.8 L651.9,102.9 L654.2,100.9 L656.6,99.1 L659.0,97.3 L661.5,95.7 L664.0,94.2 L666.6,92.8 L669.3,91.4 L672.0,90.1 L674.8,88.8 L677.6,87.7 L680.5,86.7 L683.4,86.0 L686.3,85.6 L689.2,85.3 L692.2,84.9 L695.2,84.6 L698.2,84.4 L701.2,84.3 L704.2,84.2 L707.2,84.2 L710.2,84.4 L713.3,84.6 L716.3,84.8 L719.3,85.2 L722.2,85.6 L725.1,86.0 L727.9,86.7 L730.7,87.8 L733.4,89.2 L736.1,90.6 L738.8,92.1 L741.5,93.4 L744.2,94.6 L746.9,95.9 L749.6,97.2 L752.3,98.5 L755.0,99.8 L757.7,101.1 L760.4,102.4 L763.1,103.7 L765.8,104.9 L768.6,106.2 L771.3,107.4 L774.0,108.7 L776.7,109.9 L779.5,111.1 L782.2,112.4 L784.9,113.6 L787.7,114.8 L790.4,116.0 L793.2,117.2 L795.9,118.4 L798.7,119.6 L801.4,120.7 L804.2,121.9 L807.0,123.0 L809.8,124.1 L812.5,125.2 L815.3,126.3 L818.1,127.5 L820.9,128.6 L823.7,129.7 L826.5,130.8 L829.3,131.9 L832.1,132.9 L835.0,133.8 L837.8,134.8 L840.7,135.6 L843.5,136.3 L846.4,137.1 L849.3,137.8 L852.2,138.4 L855.1,139.1 L858.1,139.7 L861.0,140.3 L863.9,140.9 L866.9,141.4 L869.8,142.0 L872.8,142.5 L875.7,143.0 L878.7,143.5 L881.7,144.0 L884.6,144.5 L887.6,145.0 L890.6,145.5 L893.5,146.0 L896.5,146.5 L899.4,147.0 L902.4,147.5 L905.3,147.9 L908.3,148.4 L911.3,148.8 L914.2,149.2 L917.2,149.6 L920.2,150.1 L923.1,150.5 L926.1,150.9 L929.1,151.4 L932.0,151.8 L935.0,152.3 L937.9,152.7 L940.9,153.2 L943.9,153.7 L946.8,154.2 L949.8,154.7 L952.7,155.1 L955.7,155.6 L958.6,156.1 L961.6,156.6 L964.5,157.1 L967.5,157.6 L970.5,158.0 L973.4,158.5 L976.4,158.9 L979.3,159.4 L982.3,159.8 L985.3,160.2 L988.2,160.6 L991.2,161.0 L994.2,161.4 L997.1,161.7 L1000.1,162.1 L1003.1,162.4 L1006.1,162.8 L1009.1,163.1 L1012.0,163.4 L1015.0,163.8 L1018.0,164.2 L1020.9,164.5 L1023.9,164.9 L1026.9,165.3 L1029.9,165.7 L1032.8,166.1 L1035.8,166.4 L1038.8,166.8 L1041.8,167.2 L1044.7,167.6 L1047.7,168.0 L1050.7,168.4 L1053.6,168.8 L1056.6,169.3 L1059.6,169.7 L1062.5,170.2 L1065.5,170.7 L1068.4,171.2 L1071.4,171.7 L1074.3,172.3 L1077.2,172.9 L1080.1,173.5 L1083.0,174.3 L1085.9,175.0 L1088.8,175.8 L1091.7,176.6 L1094.6,177.4 L1097.5,178.2 L1100.4,178.9 L1103.3,179.7 L1106.2,180.4 L1109.1,181.1 L1112.0,181.8 L1115.0,182.4 L1117.9,182.9 L1120.9,183.5 L1123.8,184.0 L1126.8,184.6 L1129.7,185.1 L1132.7,185.6 L1135.7,186.1 L1138.6,186.6 L1141.6,187.2 L1144.5,187.7 L1147.5,188.3 L1150.4,188.9 L1153.3,189.5 L1156.2,190.2 L1159.1,190.9 L1161.9,191.7 L1164.8,192.6 L1167.6,193.5 L1170.5,194.5 L1173.3,195.5 L1176.1,196.6 L1178.9,197.6 L1181.7,198.7 L1184.5,199.8 L1187.3,200.9 L1190.1,201.9 L1192.9,203.0 L1195.8,203.9 L1198.6,204.9 L1201.4,205.9 L1204.3,206.8 L1207.1,207.8 L1210.0,208.7 L1212.8,209.7 L1215.7,210.6 L1218.5,211.6 L1221.3,212.5 L1224.2,213.4 L1227.0,214.3 L1229.9,215.3 L1232.8,216.1 L1235.6,217.0 L1238.5,217.9 L1241.4,218.7 L1244.2,219.6 L1247.1,220.4 L1250.0,221.1 L1252.9,221.9 L1255.8,222.6 L1258.7,223.3 L1261.6,224.0 L1264.6,224.7 L1267.5,225.3 L1270.4,226.0 L1273.3,226.7 L1276.2,227.4 L1279.1,228.2 L1282.0,229.0 L1284.9,229.8 L1287.7,230.7 L1290.6,231.5 L1293.5,232.4 L1296.3,233.3 L1299.2,234.3 L1302.0,235.2 L1304.8,236.2 L1307.7,237.1 L1310.5,238.1 L1313.3,239.1 L1316.2,240.0 L1319.0,241.0 L1321.9,242.0 L1324.7,242.9 L1327.5,243.9 L1330.4,244.8 L1333.2,245.7 L1336.1,246.7 L1338.9,247.5 L1341.8,248.4 L1344.7,249.3 L1347.5,250.2 L1350.4,251.1 L1353.3,252.0 L1356.1,252.9 L1359.0,253.7 L1361.8,254.7 L1364.7,255.6 L1367.5,256.5 L1370.4,257.5 L1373.2,258.4 L1376.0,259.4 L1378.8,260.4 L1381.7,261.4 L1384.5,262.4 L1387.3,263.4 L1390.1,264.5 L1392.9,265.5 L1395.8,266.5 L1398.6,267.5 L1401.4,268.6 L1404.2,269.6 L1407.0,270.6 L1409.9,271.6 L1412.7,272.5 L1415.5,273.5 L1418.4,274.5 L1421.2,275.4 L1424.1,276.3 L1426.9,277.2 L1429.8,278.0 L1432.7,278.9 L1435.5,279.8 L1438.4,280.7 L1441.2,281.5 L1444.1,282.4 L1447.0,283.3 L1449.8,284.3 L1452.6,285.3 L1455.4,286.2 L1458.3,287.3 L1461.1,288.3 L1463.9,289.4 L1466.7,290.4 L1469.5,291.5 L1472.2,292.6 L1475.0,293.7 L1477.8,294.8 L1480.6,295.9 L1483.4,297.0 L1486.2,298.1 L1489.0,299.2 L1491.8,300.3 L1494.6,301.4 L1497.4,302.5 L1500.2,303.5 L1503.0,304.5 L1505.8,305.5 L1508.6,306.5 L1511.5,307.4 L1514.3,308.4 L1517.2,309.3 L1520.0,310.3 L1522.8,311.3 L1525.7,312.2 L1528.5,313.2 L1531.3,314.2 L1534.1,315.2 L1537.0,316.2 L1539.8,317.3 L1542.6,318.3 L1545.3,319.4 L1548.1,320.5 L1550.9,321.6 L1553.7,322.7 L1556.5,323.8 L1559.3,324.9 L1562.0,326.1 L1564.8,327.2 L1567.6,328.3 L1570.4,329.4 L1573.2,330.5 L1575.9,331.7 L1578.7,332.8 L1581.5,333.9 L1584.3,335.0 L1587.1,336.0 L1589.9,337.1 L1592.7,338.2 L1595.5,339.3 L1598.3,340.3 L1601.1,341.4 L1603.9,342.5 L1606.7,343.5 L1609.5,344.6 L1612.3,345.6 L1615.1,346.7 L1617.9,347.7 L1620.7,348.8 L1623.5,349.9 L1626.3,350.9 L1629.1,352.0 L1631.9,353.0 L1634.7,354.1 L1637.5,355.1 L1640.3,356.1 L1643.1,357.2 L1645.9,358.2 L1648.7,359.3 L1651.5,360.3 L1654.3,361.4 L1657.2,362.4 L1660.0,363.4 L1662.8,364.4 L1665.6,365.5 L1668.4,366.5 L1671.2,367.5 L1674.1,368.5 L1676.9,369.5 L1679.7,370.6 L1682.5,371.6 L1685.3,372.6 L1688.1,373.6 L1691.0,374.6 L1693.8,375.7 L1696.6,376.7 L1699.4,377.7 L1702.2,378.7 L1705.0,379.8 L1707.8,380.8 L1710.6,381.9 L1713.4,382.9 L1716.2,384.0 L1719.0,385.0 L1721.8,386.1 L1724.6,387.1 L1727.4,388.2 L1730.2,389.3 L1733.0,390.4 L1735.8,391.5 L1738.6,392.6 L1741.4,393.7 L1744.1,394.8 L1746.9,396.0 L1749.7,397.1 L1752.5,398.2 L1755.2,399.4 L1758.0,400.5 L1760.8,401.6 L1763.5,402.8 L1766.3,403.9 L1769.1,405.1 L1771.8,406.2 L1774.6,407.4 L1777.4,408.5 L1780.1,409.7 L1782.9,410.9 L1785.6,412.0 L1788.4,413.2 L1791.2,414.3 L1793.9,415.5 L1796.7,416.6 L1799.5,417.7 L1802.3,418.9 L1805.0,420.0 L1807.8,421.1 L1810.6,422.3 L1813.4,423.4 L1816.1,424.5 L1818.9,425.6 L1821.7,426.7 L1824.5,427.8 L1827.3,428.9 L1830.1,430.0 L1832.8,431.1 L1835.6,432.2 L1838.4,433.3 L1841.2,434.4 L1844.0,435.5 L1846.8,436.6 L1849.6,437.7 L1852.4,438.8 L1855.1,439.9 L1857.9,441.0 L1860.7,442.1 L1863.5,443.2 L1866.3,444.3 L1869.1,445.4 L1871.8,446.5 L1874.6,447.6 L1877.4,448.7 L1880.2,449.9 L1882.9,451.0 L1885.7,452.1 L1888.5,453.3 L1891.3,454.4 L1894.0,455.5 L1896.8,456.7 L1899.6,457.8 L1902.3,459.0 L1905.1,460.1 L1907.9,461.2 L1910.6,462.4 L1913.4,463.5 L1916.2,464.7 L1918.9,465.8 L1921.7,467.0 L1924.5,468.2 L1927.2,469.3 L1930.0,470.5 L1932.7,471.6 L1935.5,472.8 L1938.3,474.0 L1941.0,475.1 L1943.8,476.3 L1946.5,477.5 L1949.3,478.6 L1952.0,479.8 L1954.8,481.0 L1957.5,482.2 L1960.3,483.4 L1963.0,484.5 L1965.8,485.7 L1968.6,486.9 L1971.3,488.1" stroke="#CFC353" stroke-width="8.3" stroke-dasharray="53.5 13.4 9.4 13.4" stroke-dashoffset="-2.5"/>
<path d="M464.3,243.3 L466.6,241.4 L468.9,239.5 L471.2,237.6 L473.6,235.7 L475.9,233.8 L478.2,231.9 L480.6,230.1 L482.9,228.2 L485.3,226.4 L487.7,224.5 L490.0,222.7 L492.4,220.9 L494.8,219.0 L497.1,217.1 L499.5,215.3 L501.9,213.4 L504.3,211.6 L506.7,209.8 L509.1,208.0 L511.6,206.3 L514.1,204.8 L516.6,203.3 L519.3,201.9 L522.0,200.7 L524.8,199.5 L527.7,198.4 L530.5,197.2 L533.3,196.1 L536.1,194.8 L538.7,193.5 L541.1,192.0 L543.5,190.3 L545.9,188.4 L548.2,186.3 L550.5,184.1 L552.4,181.8 L554.2,179.4 L555.5,177.0 L556.8,174.5 L557.9,171.8 L558.9,169.0 L559.8,166.1 L560.7,163.2 L561.5,160.2 L562.3,157.2 L563.1,154.2 L564.0,151.3 L564.8,148.4 L565.7,145.5 L566.6,142.7 L567.4,139.8 L568.2,136.9 L569.0,134.0 L569.8,131.1 L570.7,128.2 L571.5,125.3 L572.3,122.5 L573.2,119.6 L574.2,116.8 L575.2,114.0 L576.1,111.1 L577.1,108.1 L578.1,105.0 L579.2,102.0 L580.3,99.1 L581.5,96.3 L582.9,93.8 L584.4,91.5 L586.1,89.6 L588.5,87.5 L591.3,85.6 L594.1,84.2 L596.8,83.6 L599.3,84.1 L601.9,85.7 L604.4,87.9 L606.6,90.5 L608.4,93.1 L609.8,95.4 L611.0,97.9 L612.1,100.6 L613.1,103.4 L614.0,106.3 L614.9,109.2 L615.7,112.2 L616.5,115.3 L617.3,118.3 L618.1,121.3 L619.0,124.2 L619.9,127.0 L620.7,129.9 L621.5,132.8 L622.3,135.7 L623.1,138.6 L623.9,141.5 L624.8,144.4 L625.6,147.3 L626.5,150.1 L627.4,153.0 L628.4,155.8 L629.4,158.6 L630.5,161.3 L631.7,164.1 L633.0,166.9 L634.3,169.6 L635.7,172.2 L637.2,174.9 L638.8,177.4 L640.4,179.9 L642.2,182.4 L644.1,184.9 L646.1,187.2 L648.3,189.2 L650.5,190.6 L652.9,191.9 L655.5,193.1 L658.1,194.3 L660.9,195.4 L663.7,196.4 L666.6,197.3 L669.6,198.2 L672.6,199.1 L675.6,199.9 L678.7,200.6 L681.7,201.3 L684.8,201.9 L687.8,202.5 L690.8,203.1 L693.7,203.7 L696.7,204.2 L699.6,204.7 L702.5,205.1 L705.5,205.6 L708.4,206.0 L711.4,206.5 L714.3,206.9 L717.3,207.2 L720.2,207.6 L723.2,208.0 L726.2,208.3 L729.2,208.7 L732.2,209.0 L735.2,209.3 L738.1,209.6 L741.1,209.9 L744.1,210.2 L747.1,210.5 L750.1,210.8 L753.1,211.1 L756.1,211.4 L759.1,211.7 L762.1,212.0 L765.1,212.3 L768.1,212.6 L771.1,213.0 L774.0,213.3 L777.0,213.6 L780.0,214.0 L783.0,214.3 L786.0,214.6 L788.9,215.0 L791.9,215.3 L794.9,215.7 L797.9,216.0 L800.8,216.4 L803.8,216.7 L806.8,217.1 L809.8,217.4 L812.7,217.8 L815.7,218.1 L818.7,218.4 L821.7,218.7 L824.7,219.1 L827.6,219.4 L830.6,219.7 L833.6,219.9 L836.6,220.2 L839.6,220.5 L842.5,220.7 L845.5,221.0 L848.5,221.2 L851.5,221.4 L854.5,221.7 L857.5,221.9 L860.5,222.1 L863.5,222.3 L866.4,222.5 L869.4,222.7 L872.4,222.9 L875.4,223.1 L878.4,223.3 L881.4,223.4 L884.4,223.6 L887.4,223.7 L890.4,223.9 L893.4,224.0 L896.3,224.2 L899.3,224.3 L902.3,224.4 L905.3,224.5 L908.3,224.7 L911.3,224.8 L914.3,224.9 L917.3,225.0 L920.3,225.1 L923.3,225.2 L926.3,225.3 L929.3,225.4 L932.3,225.5 L935.3,225.6 L938.3,225.7 L941.3,225.8 L944.2,225.9 L947.2,226.0 L950.2,226.1 L953.2,226.2 L956.2,226.3 L959.2,226.4 L962.2,226.6 L965.2,226.7 L968.2,226.8 L971.2,226.9 L974.2,227.0 L977.2,227.1 L980.2,227.2 L983.2,227.3 L986.2,227.4 L989.2,227.5 L992.2,227.6 L995.2,227.7 L998.2,227.8 L1001.1,227.9 L1004.1,228.0 L1007.1,228.1 L1010.1,228.2 L1013.1,228.3 L1016.1,228.4 L1019.1,228.5 L1022.1,228.6 L1025.1,228.7 L1028.1,228.8 L1031.1,228.9 L1034.1,229.1 L1037.1,229.2 L1040.1,229.3 L1043.1,229.5 L1046.0,229.6 L1049.0,229.8 L1052.0,229.9 L1055.0,230.1 L1058.0,230.3 L1061.0,230.5 L1064.0,230.7 L1066.9,230.9 L1069.9,231.2 L1072.9,231.4 L1075.9,231.7 L1078.9,232.0 L1081.9,232.3 L1084.9,232.6 L1087.8,232.9 L1090.8,233.2 L1093.8,233.6 L1096.8,233.9 L1099.8,234.3 L1102.7,234.6 L1105.7,235.0 L1108.7,235.4 L1111.7,235.8 L1114.6,236.2 L1117.6,236.6 L1120.6,237.0 L1123.5,237.4 L1126.5,237.9 L1129.5,238.3 L1132.4,238.7 L1135.4,239.1 L1138.3,239.6 L1141.3,240.0 L1144.3,240.5 L1147.2,241.0 L1150.2,241.5 L1153.1,242.1 L1156.1,242.7 L1159.0,243.2 L1161.9,243.8 L1164.9,244.5 L1167.8,245.1 L1170.7,245.7 L1173.7,246.4 L1176.6,247.1 L1179.5,247.8 L1182.4,248.5 L1185.3,249.2 L1188.2,250.0 L1191.1,250.7 L1194.0,251.5 L1196.9,252.4 L1199.8,253.2 L1202.6,254.1 L1205.5,254.9 L1208.4,255.8 L1211.2,256.8 L1214.1,257.7 L1216.9,258.7 L1219.7,259.7 L1222.5,260.7 L1225.3,261.7 L1228.1,262.8 L1230.9,263.9 L1233.6,265.1 L1236.4,266.3 L1239.1,267.5 L1241.8,268.7 L1244.6,270.0 L1247.3,271.3 L1250.0,272.6 L1252.7,273.9 L1255.4,275.2 L1258.1,276.5 L1260.8,277.8 L1263.5,279.1 L1266.2,280.4 L1268.9,281.7 L1271.6,283.1 L1274.2,284.4 L1276.9,285.7 L1279.6,287.1 L1282.3,288.5 L1284.9,289.8 L1287.6,291.2 L1290.2,292.6 L1292.9,294.0 L1295.5,295.4 L1298.2,296.8 L1300.8,298.2 L1303.5,299.6 L1306.1,301.0 L1308.8,302.4 L1311.4,303.9 L1314.0,305.3 L1316.7,306.7 L1319.3,308.1 L1321.9,309.6 L1324.6,311.0 L1327.2,312.4 L1329.9,313.9 L1332.5,315.3 L1335.1,316.7 L1337.8,318.2 L1340.4,319.6 L1343.0,321.1 L1345.6,322.5 L1348.2,324.0 L1350.9,325.5 L1353.5,326.9 L1356.1,328.4 L1358.7,329.9 L1361.2,331.4 L1363.8,333.0 L1366.4,334.5 L1369.0,336.0 L1371.5,337.6 L1374.1,339.2 L1376.6,340.7 L1379.1,342.3 L1381.6,343.9 L1384.1,345.5 L1386.6,347.2 L1389.1,348.8 L1391.6,350.5 L1394.1,352.1 L1396.6,353.8 L1399.1,355.5 L1401.5,357.2 L1404.0,358.9 L1406.4,360.6 L1408.9,362.4 L1411.3,364.1 L1413.8,365.8 L1416.2,367.6 L1418.6,369.3 L1421.1,371.1 L1423.5,372.8 L1425.9,374.6 L1428.4,376.4 L1430.8,378.2 L1433.2,379.9 L1435.6,381.7 L1438.0,383.5 L1440.4,385.3 L1442.9,387.1 L1445.3,388.8 L1447.7,390.6 L1450.1,392.4 L1452.5,394.2 L1454.9,396.0 L1457.3,397.7 L1459.8,399.5 L1462.2,401.3 L1464.6,403.1 L1467.0,404.8 L1469.4,406.6 L1471.8,408.4 L1474.2,410.2 L1476.6,411.9 L1479.0,413.7 L1481.4,415.5 L1483.8,417.3 L1486.2,419.1 L1488.6,420.9 L1491.0,422.7 L1493.4,424.5 L1495.8,426.3 L1498.2,428.1 L1500.6,429.9 L1503.0,431.7 L1505.4,433.5 L1507.8,435.4 L1510.1,437.2 L1512.5,439.0 L1514.9,440.8 L1517.3,442.6 L1519.7,444.4 L1522.1,446.2 L1524.5,448.0 L1526.8,449.9 L1529.2,451.7 L1531.6,453.5 L1534.0,455.3 L1536.4,457.1 L1538.8,458.9 L1541.2,460.7 L1543.6,462.5 L1546.0,464.3 L1548.4,466.1 L1550.8,467.9 L1553.2,469.7 L1555.6,471.5 L1558.0,473.3 L1560.4,475.1 L1562.8,476.8 L1565.2,478.6 L1567.6,480.4 L1570.0,482.2 L1572.4,484.0 L1574.8,485.8 L1577.2,487.6 L1579.6,489.4 L1582.0,491.2 L1584.4,492.9 L1586.8,494.7 L1589.2,496.6 L1591.6,498.4 L1594.0,500.2 L1596.3,502.0 L1598.7,503.8 L1601.1,505.6 L1603.5,507.5 L1605.8,509.3 L1608.2,511.1 L1610.6,513.0 L1612.9,514.8 L1615.3,516.6 L1617.7,518.5 L1620.0,520.3 L1622.4,522.1 L1624.8,523.9 L1627.2,525.8 L1629.6,527.6 L1632.0,529.4 L1634.4,531.2 L1636.8,533.0 L1639.2,534.7 L1641.6,536.5 L1644.0,538.3 L1646.4,540.1 L1648.8,541.9 L1651.2,543.7 L1653.6,545.4 L1656.0,547.2 L1658.4,549.0 L1660.9,550.8 L1663.3,552.5 L1665.7,554.3 L1668.1,556.1 L1670.5,557.8 L1673.0,559.6 L1675.4,561.3 L1677.9,563.1 L1680.3,564.8 L1682.7,566.5 L1685.2,568.3 L1687.6,570.0 L1690.1,571.7 L1692.5,573.4 L1695.0,575.1 L1697.5,576.8 L1699.9,578.5 L1702.4,580.2 L1704.9,581.8 L1707.4,583.5 L1709.9,585.2 L1712.4,586.8 L1714.9,588.5 L1717.4,590.1 L1719.9,591.8 L1722.4,593.4 L1724.9,595.0 L1727.4,596.7 L1730.0,598.3 L1732.5,599.9 L1735.0,601.5 L1737.5,603.1 L1740.1,604.7 L1742.6,606.3 L1745.1,607.9 L1747.7,609.5 L1750.2,611.1 L1752.7,612.7 L1755.3,614.3 L1757.8,615.9 L1760.4,617.5 L1762.9,619.0 L1765.5,620.6 L1768.0,622.2 L1770.6,623.7 L1773.1,625.3 L1775.7,626.9 L1778.3,628.4 L1780.8,629.9 L1783.4,631.5 L1786.0,633.0 L1788.5,634.5 L1791.1,636.1 L1793.7,637.6 L1796.3,639.1 L1798.9,640.6 L1801.5,642.1 L1804.1,643.6 L1806.7,645.1 L1809.3,646.6 L1811.9,648.1 L1814.5,649.5 L1817.1,651.0 L1819.7,652.5 L1822.3,654.0 L1824.9,655.4 L1827.5,656.9 L1830.2,658.3 L1832.8,659.8 L1835.4,661.2 L1838.0,662.6 L1840.7,664.1 L1843.3,665.5 L1846.0,666.9 L1848.6,668.3 L1851.3,669.7 L1853.9,671.0 L1856.6,672.4 L1859.3,673.8 L1861.9,675.1 L1864.6,676.5 L1867.3,677.8 L1870.0,679.2 L1872.6,680.5 L1875.3,681.8 L1878.0,683.1 L1880.7,684.4 L1883.4,685.7 L1886.1,687.0 L1888.8,688.3 L1891.5,689.6 L1894.3,690.9 L1897.0,692.1 L1899.7,693.4 L1902.4,694.6 L1905.1,695.9 L1907.9,697.1 L1910.6,698.3 L1913.3,699.6 L1916.1,700.8 L1918.8,702.0 L1921.6,703.2 L1924.3,704.4 L1927.1,705.6 L1929.8,706.8 L1932.6,708.0 L1935.3,709.1 L1938.1,710.3 L1940.8,711.5 L1943.6,712.6 L1946.3,713.8 L1949.1,715.0 L1951.9,716.1 L1954.6,717.2 L1957.4,718.4 L1960.2,719.5 L1963.0,720.6 L1965.7,721.8 L1968.5,722.9 L1971.3,724.0" stroke="#CD4421" stroke-width="8.3"/>
<path d="M464.3,243.3 L466.6,241.4 L468.9,239.5 L471.2,237.6 L473.6,235.7 L475.9,233.8 L478.2,231.9 L480.6,230.1 L482.9,228.2 L485.3,226.4 L487.7,224.5 L490.0,222.7 L492.4,220.9 L494.8,219.0 L497.1,217.1 L499.5,215.2 L501.9,213.3 L504.2,211.4 L506.6,209.6 L509.1,207.9 L511.5,206.2 L514.1,204.7 L516.6,203.3 L519.3,202.0 L522.1,200.8 L525.0,199.8 L527.9,198.7 L530.8,197.8 L533.7,196.8 L536.6,195.7 L539.3,194.6 L542.0,193.5 L544.6,192.1 L547.0,190.6 L549.3,188.9 L551.5,187.0 L553.6,185.0 L555.7,182.8 L557.8,180.6 L559.8,178.2 L561.8,175.8 L563.7,173.5 L565.7,171.1 L567.7,168.9 L569.7,166.6 L571.7,164.4 L573.7,162.2 L575.7,159.9 L577.7,157.7 L579.7,155.4 L581.6,153.1 L583.5,150.8 L585.4,148.5 L587.3,146.2 L589.1,143.8 L591.0,141.4 L592.7,139.0 L594.5,136.6 L596.2,134.1 L597.9,131.7 L599.6,129.2 L601.3,126.7 L603.0,124.2 L604.6,121.7 L606.3,119.2 L608.0,116.8 L609.7,114.3 L611.5,111.8 L613.2,109.4 L615.0,107.0 L616.8,104.6 L618.7,102.3 L620.5,99.9 L622.4,97.6 L624.4,95.3 L626.4,93.1 L628.6,91.1 L630.9,89.0 L633.4,87.4 L636.1,86.3 L639.0,85.4 L642.0,84.8 L645.0,84.5 L648.0,84.6 L651.0,84.9 L654.0,85.2 L656.8,85.9 L659.5,87.2 L662.1,88.9 L664.6,90.7 L667.0,92.5 L669.3,94.3 L671.5,96.3 L673.7,98.4 L675.8,100.5 L677.9,102.7 L679.9,105.0 L681.9,107.3 L683.9,109.5 L685.8,111.8 L687.8,114.1 L689.7,116.4 L691.5,118.8 L693.4,121.2 L695.1,123.6 L696.9,126.0 L698.6,128.5 L700.2,131.0 L701.7,133.6 L703.1,136.3 L704.5,139.0 L705.8,141.7 L707.2,144.3 L708.7,146.9 L710.3,149.4 L712.0,151.8 L713.9,154.1 L715.9,156.3 L718.0,158.5 L720.1,160.7 L722.1,162.9 L724.2,165.1 L726.2,167.4 L728.1,169.6 L730.1,171.9 L732.1,174.1 L734.1,176.4 L736.1,178.6 L738.2,180.7 L740.3,182.9 L742.4,185.0 L744.5,187.1 L746.7,189.2 L748.9,191.2 L751.2,193.2 L753.4,195.2 L755.8,197.1 L758.1,198.9 L760.5,200.6 L763.0,202.3 L765.6,203.9 L768.1,205.4 L770.7,207.0 L773.3,208.5 L775.8,210.1 L778.4,211.7 L780.9,213.3 L783.4,215.0 L785.9,216.6 L788.5,218.2 L791.0,219.8 L793.5,221.4 L796.0,223.1 L798.5,224.7 L801.0,226.4 L803.5,228.1 L806.0,229.8 L808.4,231.5 L810.9,233.2 L813.4,234.9 L815.9,236.6 L818.3,238.2 L820.8,239.9 L823.3,241.6 L825.8,243.2 L828.3,244.9 L830.8,246.5 L833.4,248.0 L835.9,249.6 L838.5,251.1 L841.1,252.6 L843.7,254.1 L846.3,255.5 L849.0,257.0 L851.6,258.4 L854.2,259.8 L856.9,261.2 L859.5,262.6 L862.2,264.0 L864.9,265.4 L867.5,266.8 L870.1,268.2 L872.8,269.7 L875.4,271.1 L878.1,272.5 L880.7,273.9 L883.4,275.3 L886.0,276.7 L888.7,278.1 L891.3,279.5 L894.0,280.9 L896.6,282.3 L899.3,283.7 L901.9,285.1 L904.6,286.4 L907.2,287.8 L909.9,289.2 L912.6,290.5 L915.3,291.9 L917.9,293.2 L920.6,294.6 L923.3,295.9 L926.0,297.2 L928.7,298.5 L931.4,299.8 L934.1,301.1 L936.8,302.4 L939.5,303.7 L942.2,305.0 L944.9,306.2 L947.6,307.5 L950.4,308.8 L953.1,310.1 L955.8,311.3 L958.5,312.6 L961.2,313.8 L963.9,315.1 L966.7,316.3 L969.4,317.6 L972.1,318.8 L974.9,320.1 L977.6,321.3 L980.3,322.5 L983.0,323.8 L985.8,325.0 L988.5,326.2 L991.2,327.5 L994.0,328.7 L996.7,329.9 L999.4,331.2 L1002.2,332.4 L1004.9,333.6 L1007.6,334.8 L1010.4,336.0 L1013.1,337.2 L1015.9,338.5 L1018.6,339.7 L1021.3,340.9 L1024.1,342.1 L1026.8,343.3 L1029.6,344.5 L1032.3,345.8 L1035.0,347.0 L1037.8,348.2 L1040.5,349.4 L1043.2,350.6 L1046.0,351.8 L1048.7,353.1 L1051.5,354.3 L1054.2,355.5 L1056.9,356.7 L1059.7,357.9 L1062.4,359.2 L1065.1,360.4 L1067.9,361.7 L1070.6,362.9 L1073.3,364.2 L1076.0,365.5 L1078.7,366.7 L1081.4,368.0 L1084.1,369.4 L1086.8,370.7 L1089.5,372.1 L1092.1,373.4 L1094.8,374.8 L1097.5,376.2 L1100.1,377.5 L1102.8,378.9 L1105.5,380.2 L1108.2,381.6 L1110.9,382.9 L1113.5,384.2 L1116.3,385.5 L1119.0,386.7 L1121.7,388.0 L1124.4,389.3 L1127.1,390.5 L1129.8,391.8 L1132.6,393.1 L1135.3,394.3 L1138.0,395.6 L1140.7,396.8 L1143.4,398.1 L1146.2,399.3 L1148.9,400.6 L1151.6,401.9 L1154.3,403.2 L1157.0,404.5 L1159.7,405.8 L1162.4,407.1 L1165.0,408.4 L1167.7,409.8 L1170.4,411.1 L1173.1,412.5 L1175.8,413.8 L1178.4,415.2 L1181.1,416.5 L1183.8,417.9 L1186.4,419.3 L1189.1,420.6 L1191.7,422.0 L1194.4,423.4 L1197.1,424.8 L1199.7,426.2 L1202.4,427.5 L1205.0,428.9 L1207.7,430.3 L1210.3,431.7 L1213.0,433.1 L1215.6,434.5 L1218.3,435.9 L1220.9,437.3 L1223.6,438.8 L1226.2,440.2 L1228.9,441.6 L1231.5,443.0 L1234.1,444.4 L1236.8,445.8 L1239.4,447.2 L1242.1,448.6 L1244.7,450.1 L1247.4,451.5 L1250.0,452.9 L1252.6,454.3 L1255.3,455.7 L1257.9,457.1 L1260.6,458.6 L1263.2,460.0 L1265.9,461.4 L1268.5,462.8 L1271.1,464.2 L1273.8,465.6 L1276.4,467.0 L1279.1,468.4 L1281.7,469.8 L1284.4,471.2 L1287.0,472.6 L1289.7,474.0 L1292.3,475.4 L1295.0,476.8 L1297.7,478.2 L1300.3,479.6 L1303.0,481.0 L1305.6,482.4 L1308.3,483.8 L1310.9,485.1 L1313.6,486.5 L1316.2,487.9 L1318.9,489.3 L1321.5,490.7 L1324.2,492.1 L1326.9,493.5 L1329.5,494.9 L1332.2,496.2 L1334.8,497.6 L1337.5,499.0 L1340.1,500.4 L1342.8,501.8 L1345.4,503.2 L1348.1,504.6 L1350.8,506.0 L1353.4,507.3 L1356.1,508.7 L1358.7,510.1 L1361.4,511.5 L1364.0,512.9 L1366.7,514.3 L1369.4,515.7 L1372.0,517.1 L1374.7,518.4 L1377.3,519.8 L1380.0,521.2 L1382.6,522.6 L1385.3,524.0 L1387.9,525.4 L1390.6,526.8 L1393.3,528.2 L1395.9,529.5 L1398.6,530.9 L1401.2,532.3 L1403.9,533.7 L1406.5,535.1 L1409.2,536.5 L1411.9,537.9 L1414.5,539.2 L1417.2,540.6 L1419.8,542.0 L1422.5,543.4 L1425.1,544.8 L1427.8,546.2 L1430.5,547.6 L1433.1,548.9 L1435.8,550.3 L1438.4,551.7 L1441.1,553.1 L1443.7,554.5 L1446.4,555.9 L1449.1,557.2 L1451.7,558.6 L1454.4,560.0 L1457.0,561.4 L1459.7,562.8 L1462.3,564.2 L1465.0,565.6 L1467.7,566.9 L1470.3,568.3 L1473.0,569.7 L1475.6,571.1 L1478.3,572.5 L1481.0,573.8 L1483.6,575.2 L1486.3,576.6 L1488.9,578.0 L1491.6,579.4 L1494.2,580.8 L1496.9,582.1 L1499.6,583.5 L1502.2,584.9 L1504.9,586.3 L1507.5,587.7 L1510.2,589.0 L1512.9,590.4 L1515.5,591.8 L1518.2,593.2 L1520.8,594.6 L1523.5,596.0 L1526.1,597.3 L1528.8,598.7 L1531.5,600.1 L1534.1,601.5 L1536.8,602.9 L1539.4,604.3 L1542.1,605.7 L1544.7,607.1 L1547.4,608.5 L1550.0,609.9 L1552.7,611.3 L1555.3,612.6 L1558.0,614.0 L1560.6,615.4 L1563.3,616.8 L1565.9,618.2 L1568.6,619.6 L1571.2,621.0 L1573.9,622.4 L1576.6,623.8 L1579.2,625.2 L1581.9,626.6 L1584.5,628.0 L1587.2,629.4 L1589.8,630.8 L1592.5,632.2 L1595.1,633.5 L1597.8,634.9 L1600.5,636.3 L1603.1,637.7 L1605.8,639.0 L1608.5,640.4 L1611.1,641.8 L1613.8,643.1 L1616.5,644.5 L1619.2,645.8 L1621.8,647.1 L1624.5,648.5 L1627.2,649.8 L1629.9,651.1 L1632.6,652.4 L1635.3,653.7 L1638.0,655.0 L1640.7,656.3 L1643.4,657.7 L1646.1,659.0 L1648.8,660.3 L1651.5,661.6 L1654.2,662.9 L1656.9,664.2 L1659.6,665.5 L1662.3,666.8 L1665.0,668.2 L1667.6,669.5 L1670.3,670.8 L1673.0,672.2 L1675.7,673.5 L1678.3,674.9 L1681.0,676.3 L1683.7,677.6 L1686.3,679.0 L1688.9,680.4 L1691.6,681.9 L1694.2,683.3 L1696.8,684.7 L1699.4,686.2 L1702.0,687.7 L1704.6,689.2 L1707.2,690.6 L1709.8,692.2 L1712.4,693.7 L1715.0,695.2 L1717.6,696.7 L1720.2,698.2 L1722.7,699.8 L1725.3,701.3 L1727.9,702.9 L1730.4,704.4 L1733.0,706.0 L1735.6,707.5 L1738.2,709.0 L1740.7,710.6 L1743.3,712.1 L1745.9,713.7 L1748.5,715.2 L1751.1,716.7 L1753.6,718.2 L1756.2,719.7 L1758.8,721.2 L1761.4,722.7 L1764.0,724.2 L1766.7,725.6 L1769.3,727.1 L1771.9,728.5 L1774.5,729.9 L1777.2,731.3 L1779.8,732.8 L1782.5,734.2 L1785.1,735.6 L1787.8,737.0 L1790.4,738.4 L1793.1,739.7 L1795.7,741.1 L1798.4,742.5 L1801.0,743.9 L1803.7,745.3 L1806.4,746.6 L1809.0,748.0 L1811.7,749.4 L1814.4,750.8 L1817.0,752.1 L1819.7,753.5 L1822.4,754.9 L1825.0,756.2 L1827.7,757.6 L1830.4,759.0 L1833.0,760.4 L1835.7,761.8 L1838.3,763.2 L1841.0,764.6 L1843.6,766.0 L1846.3,767.4 L1848.9,768.8 L1851.6,770.2 L1854.2,771.6 L1856.8,773.1 L1859.4,774.5 L1862.1,776.0 L1864.7,777.4 L1867.3,778.9 L1869.9,780.4 L1872.5,781.9 L1875.1,783.3 L1877.7,784.8 L1880.3,786.3 L1882.9,787.8 L1885.6,789.3 L1888.2,790.8 L1890.8,792.2 L1893.4,793.7 L1896.0,795.2 L1898.6,796.6 L1901.2,798.1 L1903.9,799.5 L1906.5,801.0 L1909.1,802.4 L1911.7,803.8 L1914.4,805.3 L1917.0,806.6 L1919.7,808.0 L1922.3,809.4 L1925.0,810.8 L1927.7,812.1 L1930.4,813.4 L1933.1,814.7 L1935.8,816.0 L1938.5,817.3 L1941.2,818.6 L1943.9,819.9 L1946.6,821.1 L1949.3,822.4 L1952.1,823.6 L1954.8,824.8 L1957.5,826.0 L1960.3,827.2 L1963.0,828.4 L1965.8,829.6 L1968.5,830.8 L1971.3,832.0" stroke="#9C3587" stroke-width="8.3" stroke-dasharray="53.5 13.4 9.4 13.4" stroke-dashoffset="-5"/>
<path d="M464.3,256.0 L466.5,254.0 L468.7,252.0 L471.0,250.0 L473.2,247.9 L475.4,245.9 L477.6,243.9 L479.9,241.9 L482.1,239.9 L484.3,238.0 L486.6,236.0 L488.8,234.0 L491.0,232.0 L493.3,230.0 L495.5,228.0 L497.7,226.0 L500.0,223.9 L502.2,221.9 L504.4,219.9 L506.7,217.9 L508.9,216.0 L511.2,214.1 L513.6,212.2 L515.9,210.4 L518.3,208.6 L520.7,206.9 L523.2,205.2 L525.7,203.5 L528.2,201.9 L530.7,200.3 L533.3,198.6 L535.8,197.0 L538.3,195.4 L540.8,193.8 L543.3,192.1 L545.9,190.5 L548.4,188.9 L551.0,187.3 L553.5,185.8 L556.1,184.2 L558.6,182.6 L561.2,181.0 L563.7,179.4 L566.2,177.8 L568.7,176.1 L571.2,174.4 L573.6,172.6 L575.9,170.9 L578.3,169.0 L580.6,167.1 L582.9,165.2 L585.1,163.2 L587.3,161.2 L589.5,159.2 L591.7,157.2 L593.9,155.1 L596.1,153.0 L598.3,151.0 L600.5,148.9 L602.7,146.8 L604.9,144.8 L607.1,142.8 L609.3,140.7 L611.5,138.7 L613.7,136.7 L615.9,134.7 L618.1,132.6 L620.3,130.6 L622.5,128.6 L624.7,126.5 L627.0,124.5 L629.2,122.5 L631.4,120.5 L633.6,118.5 L635.9,116.5 L638.1,114.6 L640.4,112.6 L642.7,110.7 L645.0,108.8 L647.3,106.8 L649.6,104.8 L651.9,102.8 L654.3,100.9 L656.6,99.1 L659.0,97.3 L661.5,95.7 L664.0,94.2 L666.6,92.8 L669.3,91.4 L672.0,90.0 L674.8,88.8 L677.7,87.7 L680.5,86.7 L683.4,86.0 L686.3,85.6 L689.2,85.3 L692.2,84.9 L695.2,84.6 L698.2,84.4 L701.3,84.3 L704.3,84.2 L707.2,84.2 L710.2,84.3 L713.2,84.4 L716.3,84.6 L719.3,84.8 L722.3,85.1 L725.2,85.3 L728.2,85.6 L731.2,86.0 L734.1,86.3 L737.1,86.7 L740.0,87.2 L742.9,87.9 L745.8,88.7 L748.7,89.6 L751.6,90.5 L754.4,91.5 L757.3,92.5 L760.1,93.5 L762.9,94.5 L765.7,95.6 L768.4,96.7 L771.2,97.9 L773.9,99.1 L776.6,100.4 L779.3,101.7 L782.1,103.0 L784.8,104.3 L787.5,105.6 L790.2,106.9 L792.9,108.2 L795.6,109.4 L798.4,110.6 L801.1,111.8 L803.8,113.0 L806.6,114.3 L809.3,115.4 L812.1,116.6 L814.8,117.8 L817.6,119.0 L820.3,120.3 L823.1,121.5 L825.8,122.7 L828.5,123.9 L831.3,125.2 L834.0,126.4 L836.7,127.7 L839.4,129.0 L842.1,130.3 L844.7,131.6 L847.4,133.0 L850.1,134.4 L852.7,135.7 L855.4,137.1 L858.0,138.5 L860.7,139.9 L863.3,141.4 L865.9,142.8 L868.6,144.2 L871.2,145.7 L873.8,147.1 L876.5,148.5 L879.1,150.0 L881.7,151.4 L884.4,152.8 L887.0,154.3 L889.6,155.7 L892.3,157.1 L894.9,158.6 L897.5,160.0 L900.1,161.5 L902.7,162.9 L905.4,164.4 L908.0,165.8 L910.6,167.3 L913.2,168.7 L915.8,170.2 L918.4,171.7 L921.0,173.1 L923.7,174.6 L926.3,176.1 L928.9,177.5 L931.5,179.0 L934.1,180.5 L936.7,181.9 L939.4,183.4 L942.0,184.8 L944.6,186.3 L947.2,187.7 L949.8,189.2 L952.5,190.6 L955.1,192.0 L957.7,193.5 L960.4,194.9 L963.0,196.3 L965.7,197.7 L968.3,199.1 L971.0,200.5 L973.6,201.9 L976.3,203.2 L978.9,204.6 L981.6,206.0 L984.2,207.4 L986.9,208.7 L989.6,210.1 L992.2,211.5 L994.9,212.8 L997.6,214.2 L1000.2,215.6 L1002.9,216.9 L1005.6,218.2 L1008.3,219.6 L1011.0,220.9 L1013.6,222.3 L1016.3,223.6 L1019.0,224.9 L1021.7,226.3 L1024.4,227.6 L1027.1,228.9 L1029.8,230.2 L1032.5,231.5 L1035.1,232.8 L1037.8,234.2 L1040.5,235.5 L1043.2,236.8 L1045.9,238.0 L1048.6,239.3 L1051.3,240.6 L1054.0,241.9 L1056.8,243.2 L1059.5,244.4 L1062.2,245.7 L1064.9,247.0 L1067.6,248.2 L1070.3,249.5 L1073.1,250.7 L1075.8,251.9 L1078.5,253.1 L1081.3,254.4 L1084.0,255.6 L1086.7,256.8 L1089.5,258.0 L1092.2,259.2 L1095.0,260.4 L1097.7,261.6 L1100.4,262.9 L1103.2,264.1 L1105.9,265.3 L1108.7,266.5 L1111.4,267.7 L1114.1,268.9 L1116.9,270.1 L1119.6,271.4 L1122.4,272.6 L1125.1,273.8 L1127.8,275.0 L1130.5,276.3 L1133.3,277.5 L1136.0,278.8 L1138.7,280.0 L1141.4,281.3 L1144.1,282.5 L1146.9,283.8 L1149.6,285.1 L1152.3,286.4 L1155.0,287.6 L1157.7,288.9 L1160.4,290.2 L1163.1,291.5 L1165.8,292.8 L1168.5,294.1 L1171.2,295.4 L1173.9,296.6 L1176.6,297.9 L1179.3,299.2 L1182.0,300.5 L1184.7,301.8 L1187.4,303.1 L1190.1,304.4 L1192.8,305.7 L1195.5,307.0 L1198.2,308.3 L1200.9,309.6 L1203.6,310.9 L1206.3,312.2 L1209.0,313.4 L1211.8,314.7 L1214.5,316.0 L1217.2,317.3 L1219.9,318.6 L1222.6,319.8 L1225.3,321.1 L1228.0,322.4 L1230.7,323.6 L1233.5,324.9 L1236.2,326.1 L1238.9,327.4 L1241.6,328.6 L1244.4,329.8 L1247.1,331.1 L1249.8,332.3 L1252.5,333.6 L1255.3,334.8 L1258.0,336.0 L1260.7,337.3 L1263.5,338.5 L1266.2,339.8 L1268.9,341.0 L1271.6,342.2 L1274.4,343.5 L1277.1,344.7 L1279.8,346.0 L1282.5,347.3 L1285.2,348.5 L1287.9,349.8 L1290.6,351.1 L1293.3,352.4 L1296.0,353.7 L1298.7,355.0 L1301.4,356.3 L1304.1,357.6 L1306.8,358.9 L1309.5,360.3 L1312.1,361.6 L1314.8,363.0 L1317.5,364.3 L1320.2,365.7 L1322.8,367.0 L1325.5,368.4 L1328.1,369.8 L1330.8,371.2 L1333.5,372.6 L1336.1,373.9 L1338.8,375.3 L1341.4,376.7 L1344.1,378.1 L1346.7,379.5 L1349.4,380.9 L1352.0,382.3 L1354.7,383.7 L1357.3,385.1 L1360.0,386.5 L1362.6,387.9 L1365.3,389.3 L1367.9,390.7 L1370.6,392.1 L1373.2,393.5 L1375.9,394.9 L1378.6,396.2 L1381.2,397.6 L1383.9,399.0 L1386.5,400.4 L1389.2,401.8 L1391.8,403.2 L1394.5,404.6 L1397.1,406.0 L1399.8,407.3 L1402.4,408.7 L1405.1,410.1 L1407.7,411.5 L1410.4,412.9 L1413.0,414.3 L1415.7,415.7 L1418.3,417.1 L1421.0,418.5 L1423.6,419.9 L1426.3,421.3 L1429.0,422.7 L1431.6,424.1 L1434.3,425.5 L1436.9,426.9 L1439.6,428.3 L1442.2,429.6 L1444.8,431.0 L1447.5,432.4 L1450.1,433.8 L1452.8,435.2 L1455.4,436.6 L1458.1,438.0 L1460.7,439.4 L1463.4,440.8 L1466.0,442.2 L1468.7,443.6 L1471.3,445.0 L1474.0,446.4 L1476.6,447.8 L1479.3,449.2 L1481.9,450.6 L1484.6,452.0 L1487.2,453.4 L1489.9,454.8 L1492.5,456.2 L1495.2,457.6 L1497.8,459.0 L1500.5,460.4 L1503.1,461.8 L1505.8,463.2 L1508.4,464.6 L1511.0,466.0 L1513.7,467.4 L1516.3,468.8 L1519.0,470.2 L1521.6,471.6 L1524.3,473.0 L1526.9,474.4 L1529.6,475.8 L1532.2,477.2 L1534.9,478.6 L1537.5,480.0 L1540.2,481.4 L1542.8,482.8 L1545.5,484.2 L1548.1,485.6 L1550.8,487.0 L1553.4,488.4 L1556.1,489.7 L1558.8,491.1 L1561.4,492.5 L1564.1,493.9 L1566.8,495.2 L1569.4,496.6 L1572.1,497.9 L1574.8,499.3 L1577.4,500.7 L1580.1,502.1 L1582.8,503.4 L1585.4,504.8 L1588.1,506.2 L1590.7,507.6 L1593.4,509.0 L1596.0,510.4 L1598.7,511.8 L1601.3,513.2 L1603.9,514.6 L1606.6,516.1 L1609.2,517.5 L1611.8,518.9 L1614.4,520.4 L1617.1,521.8 L1619.7,523.3 L1622.3,524.7 L1624.9,526.2 L1627.5,527.7 L1630.1,529.1 L1632.7,530.6 L1635.3,532.1 L1637.9,533.6 L1640.6,535.1 L1643.1,536.6 L1645.7,538.0 L1648.3,539.5 L1650.9,541.0 L1653.5,542.5 L1656.1,544.1 L1658.7,545.6 L1661.3,547.1 L1663.8,548.6 L1666.4,550.2 L1669.0,551.7 L1671.5,553.2 L1674.1,554.8 L1676.7,556.3 L1679.2,557.9 L1681.8,559.4 L1684.4,561.0 L1686.9,562.5 L1689.5,564.1 L1692.1,565.6 L1694.6,567.2 L1697.2,568.7 L1699.8,570.3 L1702.3,571.8 L1704.9,573.3 L1707.5,574.9 L1710.0,576.4 L1712.6,578.0 L1715.2,579.5 L1717.7,581.0 L1720.3,582.6 L1722.9,584.1 L1725.5,585.7 L1728.0,587.2 L1730.6,588.7 L1733.2,590.3 L1735.7,591.8 L1738.3,593.4 L1740.8,594.9 L1743.4,596.5 L1746.0,598.0 L1748.5,599.6 L1751.1,601.2 L1753.6,602.7 L1756.2,604.3 L1758.7,605.9 L1761.3,607.5 L1763.8,609.0 L1766.4,610.6 L1768.9,612.2 L1771.4,613.8 L1774.0,615.4 L1776.5,617.0 L1779.1,618.5 L1781.6,620.1 L1784.2,621.7 L1786.7,623.3 L1789.3,624.8 L1791.8,626.4 L1794.4,627.9 L1797.0,629.5 L1799.5,631.0 L1802.1,632.5 L1804.7,634.1 L1807.3,635.6 L1809.8,637.1 L1812.4,638.6 L1815.0,640.1 L1817.6,641.6 L1820.2,643.1 L1822.8,644.6 L1825.4,646.1 L1828.0,647.6 L1830.6,649.1 L1833.2,650.6 L1835.8,652.0 L1838.4,653.5 L1841.0,655.0 L1843.6,656.5 L1846.3,657.9 L1848.9,659.4 L1851.5,660.8 L1854.1,662.3 L1856.7,663.7 L1859.4,665.1 L1862.0,666.6 L1864.6,668.0 L1867.3,669.4 L1869.9,670.8 L1872.5,672.3 L1875.2,673.7 L1877.8,675.1 L1880.5,676.5 L1883.1,677.9 L1885.8,679.3 L1888.4,680.7 L1891.1,682.1 L1893.7,683.5 L1896.4,684.9 L1899.0,686.3 L1901.6,687.7 L1904.3,689.1 L1906.9,690.5 L1909.6,691.9 L1912.2,693.3 L1914.9,694.7 L1917.6,696.1 L1920.2,697.4 L1922.9,698.8 L1925.5,700.2 L1928.2,701.6 L1930.9,702.9 L1933.5,704.3 L1936.2,705.6 L1938.9,706.9 L1941.6,708.3 L1944.3,709.6 L1947.0,710.9 L1949.7,712.2 L1952.3,713.5 L1955.0,714.8 L1957.7,716.1 L1960.5,717.4 L1963.2,718.7 L1965.9,720.0 L1968.6,721.2 L1971.3,722.5" stroke="#F08A47" stroke-width="8.3"/>
<path d="M464.3,256.0 L466.5,254.0 L468.7,252.0 L471.0,250.0 L473.2,247.9 L475.4,245.9 L477.6,243.9 L479.9,241.9 L482.1,239.9 L484.3,237.9 L486.6,235.9 L488.8,234.0 L491.1,232.0 L493.3,230.0 L495.5,228.0 L497.8,225.9 L500.0,223.9 L502.2,221.9 L504.4,219.9 L506.7,217.9 L509.0,216.0 L511.3,214.0 L513.6,212.2 L515.9,210.3 L518.3,208.6 L520.8,206.8 L523.2,205.1 L525.7,203.5 L528.3,201.8 L530.8,200.2 L533.3,198.6 L535.9,197.0 L538.4,195.4 L540.9,193.7 L543.4,192.1 L545.9,190.5 L548.5,188.9 L551.0,187.3 L553.6,185.7 L556.2,184.1 L558.7,182.5 L561.3,181.0 L563.8,179.3 L566.3,177.7 L568.8,176.0 L571.2,174.3 L573.7,172.6 L576.0,170.8 L578.4,169.0 L580.7,167.1 L582.9,165.1 L585.2,163.2 L587.4,161.2 L589.6,159.1 L591.8,157.1 L594.0,155.0 L596.2,153.0 L598.4,150.9 L600.6,148.8 L602.8,146.7 L605.0,144.7 L607.2,142.7 L609.4,140.6 L611.6,138.6 L613.8,136.6 L616.0,134.6 L618.2,132.5 L620.5,130.5 L622.7,128.5 L624.9,126.4 L627.1,124.4 L629.3,122.4 L631.5,120.4 L633.7,118.4 L636.0,116.4 L638.3,114.4 L640.5,112.5 L642.8,110.6 L645.1,108.7 L647.4,106.7 L649.7,104.7 L652.1,102.7 L654.4,100.8 L656.8,98.9 L659.2,97.2 L661.7,95.6 L664.2,94.1 L666.8,92.7 L669.5,91.3 L672.2,90.0 L675.0,88.7 L677.9,87.6 L680.7,86.7 L683.6,86.0 L686.5,85.6 L689.5,85.2 L692.4,84.9 L695.4,84.6 L698.5,84.4 L701.5,84.3 L704.5,84.2 L707.5,84.3 L710.5,84.5 L713.5,84.8 L716.5,85.3 L719.5,85.8 L722.4,86.4 L725.2,87.1 L728.0,88.0 L730.7,89.2 L733.4,90.7 L736.0,92.3 L738.6,94.0 L741.0,95.7 L743.4,97.5 L745.6,99.4 L747.9,101.5 L750.1,103.5 L752.2,105.6 L754.4,107.7 L756.7,109.7 L758.9,111.7 L761.2,113.6 L763.5,115.6 L765.7,117.6 L768.0,119.5 L770.2,121.5 L772.5,123.5 L774.8,125.5 L777.0,127.4 L779.3,129.4 L781.5,131.4 L783.8,133.3 L786.1,135.3 L788.3,137.3 L790.6,139.2 L792.9,141.2 L795.1,143.2 L797.4,145.1 L799.6,147.1 L801.9,149.1 L804.1,151.1 L806.3,153.1 L808.6,155.1 L810.8,157.1 L813.1,159.1 L815.3,161.0 L817.6,163.0 L819.9,164.9 L822.2,166.9 L824.5,168.8 L826.8,170.6 L829.2,172.5 L831.5,174.4 L833.9,176.2 L836.2,178.1 L838.6,179.9 L841.0,181.7 L843.3,183.6 L845.7,185.4 L848.1,187.2 L850.5,189.0 L852.9,190.8 L855.3,192.6 L857.8,194.3 L860.2,196.1 L862.6,197.9 L865.0,199.6 L867.5,201.4 L869.9,203.1 L872.3,204.9 L874.8,206.6 L877.3,208.2 L879.8,209.9 L882.3,211.6 L884.8,213.3 L887.2,215.0 L889.7,216.7 L892.1,218.4 L894.6,220.2 L897.0,222.0 L899.3,223.8 L901.7,225.6 L904.0,227.5 L906.3,229.4 L908.7,231.3 L911.0,233.3 L913.3,235.2 L915.6,237.1 L917.9,239.1 L920.2,241.0 L922.5,242.9 L924.8,244.8 L927.1,246.7 L929.5,248.5 L931.9,250.4 L934.2,252.2 L936.7,253.9 L939.1,255.6 L941.6,257.3 L944.1,258.9 L946.6,260.5 L949.2,262.1 L951.7,263.7 L954.3,265.3 L956.9,266.8 L959.4,268.4 L961.9,270.0 L964.4,271.7 L966.9,273.4 L969.4,275.1 L971.8,276.8 L974.2,278.6 L976.6,280.4 L979.0,282.2 L981.4,284.0 L983.7,285.9 L986.1,287.7 L988.4,289.6 L990.8,291.4 L993.2,293.3 L995.5,295.2 L997.9,297.0 L1000.2,298.9 L1002.6,300.7 L1005.0,302.5 L1007.4,304.3 L1009.8,306.1 L1012.2,307.8 L1014.7,309.6 L1017.1,311.3 L1019.6,313.0 L1022.1,314.7 L1024.6,316.4 L1027.0,318.1 L1029.5,319.7 L1032.0,321.4 L1034.5,323.1 L1036.9,324.8 L1039.4,326.6 L1041.8,328.3 L1044.3,330.0 L1046.7,331.8 L1049.1,333.5 L1051.6,335.3 L1054.0,337.1 L1056.4,338.8 L1058.8,340.6 L1061.3,342.4 L1063.7,344.1 L1066.1,345.9 L1068.5,347.7 L1071.0,349.4 L1073.4,351.1 L1075.9,352.8 L1078.3,354.5 L1080.8,356.2 L1083.3,357.9 L1085.8,359.6 L1088.3,361.2 L1090.8,362.8 L1093.3,364.5 L1095.8,366.1 L1098.4,367.7 L1100.9,369.3 L1103.4,370.9 L1106.0,372.5 L1108.5,374.0 L1111.1,375.6 L1113.6,377.2 L1116.2,378.7 L1118.8,380.3 L1121.3,381.8 L1123.9,383.4 L1126.5,384.9 L1129.0,386.5 L1131.6,388.0 L1134.2,389.6 L1136.7,391.1 L1139.3,392.7 L1141.9,394.2 L1144.5,395.8 L1147.0,397.3 L1149.6,398.8 L1152.2,400.4 L1154.7,401.9 L1157.3,403.5 L1159.9,405.1 L1162.4,406.6 L1165.0,408.2 L1167.5,409.8 L1170.1,411.3 L1172.6,412.9 L1175.2,414.5 L1177.7,416.1 L1180.3,417.7 L1182.8,419.3 L1185.3,420.8 L1187.9,422.4 L1190.4,424.0 L1193.0,425.6 L1195.5,427.2 L1198.1,428.8 L1200.6,430.4 L1203.1,432.0 L1205.7,433.6 L1208.2,435.2 L1210.8,436.8 L1213.3,438.4 L1215.8,440.0 L1218.4,441.6 L1220.9,443.2 L1223.5,444.8 L1226.0,446.3 L1228.5,447.9 L1231.1,449.5 L1233.6,451.1 L1236.2,452.7 L1238.7,454.3 L1241.3,455.8 L1243.8,457.4 L1246.4,459.0 L1249.0,460.5 L1251.5,462.1 L1254.1,463.7 L1256.6,465.2 L1259.2,466.8 L1261.8,468.3 L1264.3,469.9 L1266.9,471.4 L1269.5,472.9 L1272.1,474.4 L1274.6,476.0 L1277.2,477.5 L1279.8,479.0 L1282.4,480.5 L1285.0,482.0 L1287.6,483.5 L1290.2,485.0 L1292.8,486.4 L1295.4,487.9 L1298.0,489.4 L1300.6,490.8 L1303.3,492.3 L1305.9,493.7 L1308.5,495.1 L1311.1,496.6 L1313.8,498.0 L1316.4,499.4 L1319.1,500.8 L1321.7,502.2 L1324.4,503.6 L1327.0,505.1 L1329.7,506.5 L1332.3,507.8 L1335.0,509.2 L1337.6,510.6 L1340.3,512.0 L1342.9,513.4 L1345.6,514.8 L1348.2,516.2 L1350.9,517.6 L1353.6,519.0 L1356.2,520.4 L1358.9,521.8 L1361.5,523.2 L1364.2,524.6 L1366.8,526.0 L1369.5,527.4 L1372.1,528.8 L1374.8,530.2 L1377.4,531.6 L1380.1,533.0 L1382.7,534.4 L1385.4,535.8 L1388.0,537.2 L1390.7,538.6 L1393.3,540.0 L1396.0,541.4 L1398.6,542.8 L1401.3,544.2 L1403.9,545.6 L1406.6,547.0 L1409.2,548.4 L1411.9,549.8 L1414.5,551.1 L1417.2,552.5 L1419.9,553.9 L1422.5,555.3 L1425.2,556.7 L1427.8,558.1 L1430.5,559.5 L1433.1,560.9 L1435.8,562.2 L1438.5,563.6 L1441.1,565.0 L1443.8,566.4 L1446.5,567.7 L1449.1,569.1 L1451.8,570.4 L1454.5,571.8 L1457.2,573.2 L1459.8,574.5 L1462.5,575.8 L1465.2,577.2 L1467.9,578.5 L1470.6,579.9 L1473.2,581.2 L1475.9,582.5 L1478.6,583.9 L1481.3,585.2 L1484.0,586.5 L1486.7,587.8 L1489.4,589.2 L1492.0,590.5 L1494.7,591.8 L1497.4,593.2 L1500.1,594.5 L1502.8,595.8 L1505.5,597.2 L1508.2,598.5 L1510.8,599.8 L1513.5,601.2 L1516.2,602.5 L1518.9,603.9 L1521.6,605.2 L1524.2,606.6 L1526.9,607.9 L1529.6,609.3 L1532.2,610.7 L1534.9,612.1 L1537.5,613.4 L1540.2,614.8 L1542.9,616.2 L1545.5,617.6 L1548.2,619.0 L1550.8,620.4 L1553.5,621.8 L1556.1,623.2 L1558.8,624.6 L1561.4,626.0 L1564.1,627.4 L1566.7,628.8 L1569.3,630.3 L1572.0,631.7 L1574.6,633.1 L1577.3,634.5 L1579.9,635.9 L1582.6,637.3 L1585.2,638.7 L1587.9,640.1 L1590.5,641.5 L1593.2,642.8 L1595.9,644.2 L1598.5,645.6 L1601.2,647.0 L1603.9,648.3 L1606.5,649.7 L1609.2,651.1 L1611.9,652.4 L1614.5,653.8 L1617.2,655.1 L1619.9,656.5 L1622.6,657.8 L1625.3,659.2 L1627.9,660.5 L1630.6,661.8 L1633.3,663.2 L1636.0,664.5 L1638.7,665.8 L1641.4,667.2 L1644.1,668.5 L1646.7,669.8 L1649.4,671.1 L1652.1,672.4 L1654.8,673.8 L1657.5,675.1 L1660.2,676.4 L1662.9,677.7 L1665.6,679.0 L1668.3,680.3 L1671.0,681.6 L1673.7,682.9 L1676.4,684.2 L1679.1,685.5 L1681.8,686.8 L1684.5,688.1 L1687.2,689.4 L1689.9,690.7 L1692.6,692.0 L1695.3,693.2 L1698.1,694.5 L1700.8,695.8 L1703.5,697.1 L1706.2,698.4 L1708.9,699.6 L1711.6,700.9 L1714.3,702.2 L1717.0,703.4 L1719.8,704.7 L1722.5,706.0 L1725.2,707.2 L1727.9,708.5 L1730.6,709.8 L1733.4,711.0 L1736.1,712.3 L1738.8,713.5 L1741.5,714.8 L1744.3,716.0 L1747.0,717.2 L1749.7,718.5 L1752.5,719.7 L1755.2,720.9 L1757.9,722.1 L1760.7,723.4 L1763.4,724.6 L1766.2,725.8 L1768.9,727.0 L1771.7,728.2 L1774.4,729.4 L1777.2,730.5 L1779.9,731.7 L1782.7,732.9 L1785.4,734.1 L1788.2,735.2 L1791.0,736.4 L1793.7,737.5 L1796.5,738.7 L1799.3,739.8 L1802.0,741.0 L1804.8,742.1 L1807.6,743.2 L1810.4,744.4 L1813.1,745.5 L1815.9,746.6 L1818.7,747.8 L1821.5,748.9 L1824.2,750.0 L1827.0,751.1 L1829.8,752.3 L1832.6,753.4 L1835.3,754.6 L1838.1,755.7 L1840.9,756.8 L1843.7,758.0 L1846.4,759.1 L1849.2,760.3 L1852.0,761.5 L1854.7,762.6 L1857.5,763.8 L1860.2,765.0 L1863.0,766.2 L1865.7,767.4 L1868.5,768.6 L1871.2,769.8 L1874.0,771.0 L1876.7,772.2 L1879.5,773.4 L1882.2,774.6 L1885.0,775.8 L1887.7,777.0 L1890.4,778.2 L1893.2,779.4 L1895.9,780.6 L1898.7,781.8 L1901.4,783.0 L1904.2,784.2 L1906.9,785.4 L1909.7,786.6 L1912.4,787.8 L1915.2,788.9 L1918.0,790.1 L1920.7,791.2 L1923.5,792.4 L1926.3,793.5 L1929.1,794.6 L1931.9,795.7 L1934.6,796.8 L1937.4,797.9 L1940.2,798.9 L1943.0,800.0 L1945.9,801.0 L1948.7,802.1 L1951.5,803.1 L1954.3,804.1 L1957.1,805.1 L1960.0,806.1 L1962.8,807.1 L1965.6,808.1 L1968.5,809.0 L1971.3,810.0" stroke="#A6A338" stroke-width="8.3" stroke-dasharray="53.5 13.4 9.4 13.4" stroke-dashoffset="-2"/>
<path d="M464.3,243.3 L466.6,241.4 L468.9,239.5 L471.2,237.6 L473.6,235.7 L475.9,233.8 L478.2,231.9 L480.6,230.1 L483.0,228.2 L485.3,226.4 L487.7,224.5 L490.1,222.7 L492.4,220.9 L494.8,219.0 L497.2,217.1 L499.5,215.2 L501.9,213.4 L504.3,211.5 L506.7,209.7 L509.1,208.0 L511.6,206.3 L514.1,204.7 L516.7,203.2 L519.3,201.9 L522.1,200.6 L524.9,199.5 L527.8,198.3 L530.6,197.2 L533.4,196.0 L536.1,194.8 L538.7,193.4 L541.2,191.9 L543.6,190.2 L546.0,188.3 L548.3,186.2 L550.5,184.0 L552.5,181.7 L554.2,179.3 L555.6,176.9 L556.8,174.4 L557.9,171.7 L558.9,168.9 L559.8,166.0 L560.7,163.1 L561.5,160.1 L562.3,157.1 L563.2,154.1 L564.0,151.2 L564.9,148.3 L565.7,145.4 L566.6,142.5 L567.4,139.6 L568.3,136.7 L569.1,133.8 L569.9,130.9 L570.7,128.1 L571.5,125.2 L572.4,122.3 L573.3,119.4 L574.2,116.6 L575.2,113.8 L576.2,110.9 L577.2,107.9 L578.2,104.8 L579.2,101.8 L580.4,98.9 L581.6,96.1 L583.0,93.6 L584.5,91.4 L586.3,89.4 L588.7,87.4 L591.5,85.5 L594.3,84.2 L597.0,83.6 L599.5,84.2 L602.1,85.8 L604.5,88.1 L606.7,90.7 L608.5,93.2 L609.9,95.6 L611.1,98.1 L612.2,100.8 L613.2,103.6 L614.1,106.5 L615.0,109.5 L615.8,112.5 L616.6,115.5 L617.4,118.6 L618.2,121.5 L619.1,124.4 L620.0,127.3 L620.8,130.2 L621.6,133.1 L622.4,136.0 L623.2,138.9 L624.0,141.8 L624.8,144.7 L625.7,147.6 L626.6,150.4 L627.5,153.3 L628.5,156.1 L629.5,158.8 L630.7,161.6 L631.9,164.4 L633.1,167.1 L634.5,169.9 L635.9,172.5 L637.4,175.1 L638.9,177.6 L640.6,180.1 L642.4,182.5 L644.4,184.8 L646.5,187.0 L648.6,189.1 L650.7,191.1 L653.0,193.0 L655.3,194.9 L657.7,196.6 L660.2,198.4 L662.7,200.1 L665.3,201.7 L667.8,203.3 L670.4,204.9 L673.0,206.5 L675.6,208.0 L678.1,209.6 L680.7,211.1 L683.3,212.6 L685.9,214.0 L688.6,215.4 L691.2,216.8 L693.9,218.2 L696.6,219.6 L699.3,221.0 L701.9,222.3 L704.6,223.6 L707.3,225.0 L710.0,226.3 L712.7,227.6 L715.4,228.8 L718.1,230.1 L720.9,231.3 L723.6,232.6 L726.4,233.8 L729.1,235.0 L731.8,236.2 L734.6,237.4 L737.3,238.6 L740.1,239.8 L742.8,241.1 L745.6,242.3 L748.3,243.5 L751.0,244.7 L753.8,246.0 L756.5,247.2 L759.2,248.4 L762.0,249.6 L764.7,250.9 L767.5,252.1 L770.2,253.3 L772.9,254.6 L775.6,255.8 L778.4,257.1 L781.1,258.3 L783.8,259.6 L786.5,260.9 L789.2,262.1 L791.9,263.4 L794.6,264.7 L797.4,266.0 L800.1,267.3 L802.8,268.6 L805.5,269.9 L808.2,271.2 L810.9,272.5 L813.6,273.8 L816.3,275.1 L819.0,276.4 L821.7,277.7 L824.4,279.0 L827.1,280.3 L829.8,281.6 L832.5,282.9 L835.2,284.2 L837.9,285.4 L840.6,286.7 L843.4,287.9 L846.1,289.1 L848.9,290.3 L851.6,291.5 L854.4,292.6 L857.2,293.8 L859.9,295.0 L862.7,296.2 L865.4,297.4 L868.1,298.7 L870.9,299.9 L873.6,301.1 L876.3,302.4 L879.1,303.6 L881.8,304.9 L884.5,306.1 L887.2,307.4 L890.0,308.6 L892.7,309.9 L895.4,311.2 L898.1,312.4 L900.8,313.7 L903.5,315.0 L906.3,316.2 L909.0,317.5 L911.7,318.8 L914.4,320.1 L917.1,321.4 L919.8,322.7 L922.5,324.0 L925.2,325.3 L927.9,326.6 L930.6,327.9 L933.3,329.2 L936.0,330.6 L938.6,332.0 L941.3,333.3 L944.0,334.7 L946.7,336.0 L949.3,337.4 L952.0,338.7 L954.7,340.0 L957.5,341.2 L960.2,342.5 L962.9,343.7 L965.6,344.9 L968.4,346.2 L971.1,347.4 L973.9,348.6 L976.6,349.8 L979.4,351.0 L982.1,352.2 L984.9,353.4 L987.6,354.6 L990.4,355.8 L993.2,356.9 L995.9,358.1 L998.7,359.2 L1001.5,360.4 L1004.3,361.5 L1007.1,362.6 L1009.9,363.7 L1012.7,364.8 L1015.5,365.9 L1018.3,366.9 L1021.1,368.0 L1023.9,369.0 L1026.7,370.0 L1029.5,371.0 L1032.3,372.0 L1035.2,372.9 L1038.0,373.9 L1040.8,374.9 L1043.7,375.8 L1046.5,376.7 L1049.4,377.6 L1052.2,378.6 L1055.1,379.5 L1058.0,380.3 L1060.8,381.2 L1063.7,382.1 L1066.6,383.0 L1069.4,383.8 L1072.3,384.7 L1075.2,385.6 L1078.1,386.4 L1081.0,387.3 L1083.8,388.1 L1086.7,388.9 L1089.6,389.8 L1092.5,390.6 L1095.4,391.4 L1098.3,392.3 L1101.1,393.1 L1104.0,393.9 L1106.9,394.8 L1109.8,395.6 L1112.7,396.5 L1115.5,397.3 L1118.4,398.1 L1121.3,398.9 L1124.2,399.7 L1127.1,400.6 L1130.0,401.4 L1132.9,402.2 L1135.7,403.0 L1138.6,403.8 L1141.5,404.6 L1144.4,405.4 L1147.3,406.1 L1150.2,406.9 L1153.1,407.7 L1156.0,408.5 L1158.9,409.3 L1161.8,410.1 L1164.7,410.9 L1167.6,411.6 L1170.5,412.4 L1173.4,413.2 L1176.3,414.0 L1179.2,414.8 L1182.0,415.5 L1184.9,416.3 L1187.8,417.1 L1190.7,417.9 L1193.6,418.7 L1196.5,419.5 L1199.4,420.2 L1202.3,421.0 L1205.2,421.8 L1208.1,422.6 L1211.0,423.3 L1213.9,424.1 L1216.8,424.8 L1219.7,425.6 L1222.6,426.4 L1225.5,427.1 L1228.4,427.8 L1231.3,428.6 L1234.2,429.3 L1237.1,430.0 L1240.1,430.8 L1243.0,431.5 L1245.9,432.2 L1248.8,432.9 L1251.7,433.6 L1254.6,434.3 L1257.5,435.0 L1260.5,435.7 L1263.4,436.4 L1266.3,437.1 L1269.2,437.8 L1272.1,438.5 L1275.0,439.2 L1278.0,439.8 L1280.9,440.5 L1283.8,441.2 L1286.7,441.9 L1289.7,442.5 L1292.6,443.2 L1295.5,443.8 L1298.4,444.5 L1301.4,445.2 L1304.3,445.8 L1307.2,446.4 L1310.1,447.1 L1313.1,447.7 L1316.0,448.4 L1318.9,449.0 L1321.9,449.6 L1324.8,450.2 L1327.7,450.8 L1330.7,451.5 L1333.6,452.1 L1336.5,452.7 L1339.5,453.3 L1342.4,453.9 L1345.4,454.5 L1348.3,455.1 L1351.2,455.7 L1354.2,456.3 L1357.1,456.9 L1360.1,457.5 L1363.0,458.0 L1365.9,458.6 L1368.9,459.2 L1371.8,459.8 L1374.8,460.3 L1377.7,460.9 L1380.7,461.4 L1383.6,462.0 L1386.6,462.5 L1389.5,463.1 L1392.5,463.6 L1395.4,464.2 L1398.4,464.7 L1401.3,465.2 L1404.3,465.8 L1407.2,466.3 L1410.2,466.8 L1413.1,467.3 L1416.1,467.9 L1419.0,468.4 L1422.0,468.9 L1424.9,469.5 L1427.9,470.0 L1430.8,470.5 L1433.8,471.0 L1436.7,471.6 L1439.7,472.1 L1442.6,472.6 L1445.6,473.1 L1448.6,473.6 L1451.5,474.2 L1454.5,474.7 L1457.4,475.2 L1460.4,475.7 L1463.3,476.2 L1466.3,476.7 L1469.3,477.2 L1472.2,477.7 L1475.2,478.2 L1478.1,478.7 L1481.1,479.2 L1484.1,479.6 L1487.0,480.1 L1490.0,480.6 L1493.0,481.1 L1495.9,481.5 L1498.9,482.0 L1501.8,482.5 L1504.8,482.9 L1507.8,483.3 L1510.7,483.8 L1513.7,484.2 L1516.7,484.7 L1519.6,485.1 L1522.6,485.5 L1525.6,485.9 L1528.5,486.3 L1531.5,486.7 L1534.5,487.1 L1537.5,487.5 L1540.4,487.9 L1543.4,488.2 L1546.4,488.6 L1549.3,489.0 L1552.3,489.3 L1555.3,489.7 L1558.3,490.0 L1561.2,490.4 L1564.2,490.7 L1567.2,491.1 L1570.2,491.4 L1573.1,491.8 L1576.1,492.1 L1579.1,492.4 L1582.1,492.8 L1585.1,493.1 L1588.0,493.5 L1591.0,493.8 L1594.0,494.1 L1597.0,494.5 L1600.0,494.8 L1603.0,495.1 L1605.9,495.4 L1608.9,495.8 L1611.9,496.1 L1614.9,496.4 L1617.9,496.7 L1620.9,497.0 L1623.8,497.3 L1626.8,497.6 L1629.8,497.9 L1632.8,498.2 L1635.8,498.5 L1638.8,498.8 L1641.8,499.1 L1644.8,499.4 L1647.7,499.7 L1650.7,499.9 L1653.7,500.2 L1656.7,500.5 L1659.7,500.7 L1662.7,501.0 L1665.7,501.2 L1668.7,501.5 L1671.7,501.7 L1674.7,502.0 L1677.6,502.2 L1680.6,502.4 L1683.6,502.6 L1686.6,502.8 L1689.6,503.0 L1692.6,503.2 L1695.6,503.4 L1698.6,503.6 L1701.6,503.8 L1704.6,504.0 L1707.6,504.2 L1710.5,504.3 L1713.5,504.5 L1716.5,504.6 L1719.5,504.8 L1722.5,504.9 L1725.5,505.1 L1728.5,505.2 L1731.5,505.3 L1734.5,505.5 L1737.5,505.6 L1740.5,505.7 L1743.5,505.9 L1746.5,506.0 L1749.5,506.1 L1752.5,506.2 L1755.4,506.3 L1758.4,506.5 L1761.4,506.6 L1764.4,506.7 L1767.4,506.8 L1770.4,506.9 L1773.4,507.0 L1776.4,507.1 L1779.4,507.2 L1782.4,507.3 L1785.4,507.4 L1788.4,507.5 L1791.4,507.6 L1794.4,507.7 L1797.4,507.8 L1800.4,507.9 L1803.4,508.0 L1806.4,508.1 L1809.4,508.2 L1812.4,508.2 L1815.4,508.3 L1818.4,508.4 L1821.4,508.5 L1824.4,508.6 L1827.4,508.7 L1830.4,508.7 L1833.4,508.8 L1836.4,508.9 L1839.4,509.0 L1842.4,509.1 L1845.4,509.1 L1848.4,509.2 L1851.4,509.3 L1854.4,509.4 L1857.4,509.4 L1860.4,509.5 L1863.4,509.6 L1866.4,509.7 L1869.4,509.7 L1872.4,509.8 L1875.4,509.9 L1878.4,510.0 L1881.4,510.0 L1884.4,510.1 L1887.4,510.2 L1890.4,510.2 L1893.4,510.3 L1896.3,510.4 L1899.3,510.4 L1902.3,510.5 L1905.3,510.6 L1908.3,510.6 L1911.3,510.7 L1914.3,510.8 L1917.3,510.8 L1920.3,510.9 L1923.3,511.0 L1926.3,511.0 L1929.3,511.1 L1932.3,511.1 L1935.3,511.2 L1938.3,511.2 L1941.3,511.3 L1944.3,511.4 L1947.3,511.4 L1950.3,511.5 L1953.3,511.5 L1956.3,511.6 L1959.3,511.6 L1962.3,511.7 L1965.3,511.7 L1968.3,511.8 L1971.3,511.8" stroke="#4DC0A6" stroke-width="8.3"/>
<path d="M464.3,228.0 L466.6,226.1 L469.0,224.2 L471.4,222.3 L473.8,220.5 L476.3,218.8 L478.7,217.1 L481.2,215.4 L483.8,213.8 L486.3,212.3 L488.9,210.8 L491.5,209.4 L494.1,208.0 L496.8,206.6 L499.5,205.2 L502.2,203.9 L505.0,202.6 L507.7,201.5 L510.5,200.4 L513.4,199.3 L516.2,198.4 L519.1,197.7 L522.0,197.0 L525.0,196.4 L528.0,195.9 L531.0,195.4 L534.0,194.8 L536.9,194.2 L539.8,193.5 L542.6,192.7 L545.2,191.6 L547.9,190.4 L550.5,188.9 L553.0,187.3 L555.5,185.5 L558.0,183.7 L560.4,181.8 L562.8,179.8 L565.1,177.9 L567.4,176.0 L569.7,174.0 L571.8,172.0 L573.9,169.9 L576.0,167.7 L578.1,165.5 L580.2,163.3 L582.2,161.1 L584.3,158.9 L586.4,156.8 L588.5,154.7 L590.6,152.6 L592.8,150.4 L594.9,148.3 L597.0,146.2 L599.1,144.1 L601.2,141.9 L603.3,139.8 L605.4,137.6 L607.5,135.5 L609.5,133.3 L611.5,131.0 L613.5,128.8 L615.5,126.6 L617.6,124.3 L619.6,122.1 L621.6,120.0 L623.7,117.8 L625.9,115.7 L628.0,113.7 L630.2,111.6 L632.5,109.6 L634.7,107.6 L637.0,105.6 L639.3,103.7 L641.6,101.8 L643.9,99.9 L646.3,98.1 L648.6,96.2 L651.0,94.2 L653.4,92.4 L655.9,90.7 L658.5,89.2 L661.1,88.0 L663.9,86.8 L666.8,85.7 L669.7,85.0 L672.7,84.8 L675.7,84.9 L678.7,85.2 L681.7,85.6 L684.6,86.1 L687.5,86.8 L690.4,87.7 L693.2,88.9 L696.0,90.0 L698.7,91.2 L701.3,92.6 L704.0,94.0 L706.5,95.6 L709.1,97.2 L711.6,98.9 L714.1,100.6 L716.6,102.3 L719.0,104.1 L721.3,105.9 L723.7,107.8 L726.0,109.7 L728.2,111.7 L730.5,113.7 L732.7,115.7 L734.9,117.8 L737.0,119.9 L739.2,121.9 L741.4,124.0 L743.5,126.1 L745.6,128.3 L747.6,130.5 L749.7,132.6 L751.7,134.8 L753.8,137.0 L755.8,139.2 L757.9,141.4 L760.0,143.5 L762.1,145.7 L764.2,147.8 L766.3,149.9 L768.5,152.1 L770.6,154.2 L772.7,156.3 L774.8,158.4 L777.0,160.5 L779.1,162.6 L781.3,164.7 L783.4,166.7 L785.6,168.8 L787.8,170.8 L790.0,172.9 L792.2,174.9 L794.4,177.0 L796.5,179.1 L798.6,181.2 L800.7,183.4 L802.8,185.5 L804.9,187.7 L806.9,189.9 L808.9,192.1 L810.9,194.3 L813.0,196.6 L815.0,198.8 L816.9,201.0 L818.9,203.3 L820.9,205.6 L822.8,207.8 L824.7,210.2 L826.6,212.5 L828.5,214.8 L830.4,217.1 L832.4,219.4 L834.3,221.7 L836.3,223.9 L838.3,226.1 L840.4,228.3 L842.5,230.4 L844.7,232.5 L846.8,234.6 L849.0,236.7 L851.1,238.8 L853.3,240.9 L855.3,243.1 L857.4,245.2 L859.4,247.4 L861.5,249.6 L863.5,251.8 L865.5,254.1 L867.5,256.3 L869.5,258.6 L871.4,260.9 L873.4,263.1 L875.3,265.5 L877.1,267.8 L879.0,270.2 L880.8,272.5 L882.6,274.9 L884.4,277.3 L886.2,279.7 L888.0,282.1 L889.8,284.5 L891.6,286.9 L893.4,289.3 L895.2,291.7 L897.0,294.1 L898.8,296.5 L900.6,299.0 L902.3,301.4 L904.1,303.8 L906.0,306.1 L907.8,308.5 L909.6,310.9 L911.4,313.3 L913.3,315.7 L915.1,318.0 L916.9,320.4 L918.8,322.8 L920.6,325.1 L922.4,327.5 L924.3,329.9 L926.1,332.3 L927.9,334.6 L929.8,337.0 L931.6,339.4 L933.4,341.7 L935.3,344.1 L937.1,346.5 L938.9,348.9 L940.7,351.3 L942.5,353.7 L944.2,356.1 L945.9,358.6 L947.7,361.1 L949.4,363.5 L951.1,366.0 L952.8,368.4 L954.5,370.9 L956.2,373.3 L958.0,375.8 L959.8,378.2 L961.6,380.6 L963.4,383.0 L965.2,385.3 L967.0,387.7 L968.9,390.1 L970.7,392.5 L972.5,394.9 L974.3,397.2 L976.2,399.6 L978.0,402.0 L979.8,404.4 L981.5,406.8 L983.3,409.2 L985.1,411.6 L986.9,414.0 L988.7,416.5 L990.5,418.9 L992.3,421.3 L994.1,423.7 L995.9,426.1 L997.6,428.5 L999.4,430.9 L1001.2,433.3 L1003.0,435.7 L1004.8,438.1 L1006.6,440.5 L1008.4,442.9 L1010.2,445.3 L1012.0,447.7 L1013.8,450.1 L1015.6,452.5 L1017.5,454.9 L1019.3,457.2 L1021.1,459.6 L1022.9,462.0 L1024.7,464.4 L1026.5,466.8 L1028.4,469.2 L1030.2,471.6 L1032.0,474.0 L1033.8,476.4 L1035.6,478.7 L1037.4,481.1 L1039.2,483.5 L1041.1,485.9 L1042.9,488.2 L1044.8,490.6 L1046.7,492.9 L1048.6,495.2 L1050.5,497.5 L1052.4,499.8 L1054.4,502.1 L1056.3,504.4 L1058.2,506.7 L1060.1,509.0 L1062.0,511.3 L1063.9,513.7 L1065.8,516.0 L1067.7,518.3 L1069.6,520.6 L1071.5,522.9 L1073.4,525.3 L1075.3,527.6 L1077.2,529.9 L1079.1,532.2 L1080.9,534.6 L1082.8,536.9 L1084.7,539.2 L1086.6,541.6 L1088.5,543.9 L1090.4,546.2 L1092.3,548.5 L1094.2,550.9 L1096.1,553.2 L1098.0,555.5 L1100.0,557.8 L1101.9,560.1 L1103.8,562.3 L1105.8,564.6 L1107.7,566.9 L1109.7,569.2 L1111.7,571.4 L1113.6,573.7 L1115.6,575.9 L1117.6,578.1 L1119.7,580.3 L1121.7,582.6 L1123.7,584.8 L1125.8,587.0 L1127.8,589.2 L1129.8,591.3 L1131.9,593.6 L1133.9,595.8 L1135.9,598.0 L1138.0,600.2 L1140.0,602.4 L1142.0,604.6 L1144.1,606.8 L1146.1,609.0 L1148.1,611.2 L1150.2,613.4 L1152.3,615.5 L1154.4,617.7 L1156.5,619.8 L1158.6,621.9 L1160.8,624.0 L1162.9,626.1 L1165.1,628.2 L1167.2,630.3 L1169.3,632.4 L1171.4,634.6 L1173.4,636.8 L1175.5,639.0 L1177.5,641.2 L1179.5,643.4 L1181.5,645.6 L1183.5,647.9 L1185.5,650.1 L1187.6,652.3 L1189.6,654.5 L1191.7,656.7 L1193.7,658.8 L1195.8,661.0 L1197.9,663.2 L1199.9,665.4 L1202.0,667.5 L1204.1,669.7 L1206.2,671.8 L1208.3,674.0 L1210.4,676.1 L1212.5,678.2 L1214.6,680.3 L1216.8,682.4 L1218.9,684.5 L1221.0,686.6 L1223.2,688.7 L1225.3,690.8 L1227.4,693.0 L1229.6,695.1 L1231.7,697.2 L1233.8,699.3 L1235.9,701.5 L1238.0,703.6 L1240.1,705.7 L1242.2,707.9 L1244.3,710.0 L1246.4,712.1 L1248.5,714.2 L1250.7,716.4 L1252.8,718.5 L1254.9,720.6 L1257.1,722.7 L1259.2,724.8 L1261.4,726.9 L1263.5,729.0 L1265.7,731.0 L1267.8,733.1 L1270.0,735.2 L1272.1,737.3 L1274.3,739.4 L1276.4,741.5 L1278.6,743.6 L1280.7,745.7 L1282.9,747.8 L1285.0,749.9 L1287.1,752.0 L1289.3,754.1 L1291.4,756.2 L1293.5,758.3 L1295.6,760.5 L1297.7,762.6 L1299.8,764.8 L1301.9,766.9 L1304.0,769.0 L1306.1,771.2 L1308.2,773.3 L1310.3,775.4 L1312.5,777.5 L1314.6,779.6 L1316.7,781.7 L1318.9,783.8 L1321.0,785.9 L1323.2,788.0 L1325.4,790.1 L1327.5,792.2 L1329.7,794.2 L1331.8,796.3 L1334.0,798.4 L1336.2,800.4 L1338.4,802.5 L1340.5,804.6 L1342.7,806.6 L1344.9,808.7 L1347.1,810.7 L1349.2,812.8 L1351.4,814.9 L1353.6,816.9 L1355.8,819.0 L1357.9,821.1 L1360.1,823.1 L1362.3,825.2 L1364.5,827.2 L1366.7,829.3 L1368.8,831.4 L1371.0,833.4 L1373.2,835.4 L1375.4,837.5 L1377.6,839.5 L1379.8,841.6 L1382.0,843.6 L1384.2,845.6 L1386.4,847.7 L1388.6,849.7 L1390.8,851.7 L1393.0,853.8 L1395.2,855.8 L1397.4,857.9 L1399.6,859.9 L1401.8,862.0 L1404.0,864.0 L1406.2,866.0 L1408.4,868.1 L1410.6,870.1 L1412.8,872.1 L1415.0,874.1 L1417.3,876.1 L1419.5,878.1 L1421.7,880.1 L1423.9,882.2 L1426.2,884.2 L1428.4,886.2 L1430.6,888.2 L1432.8,890.2 L1435.0,892.2 L1437.2,894.3 L1439.4,896.3 L1441.7,898.3 L1443.9,900.4 L1446.1,902.4 L1448.3,904.4 L1450.5,906.4 L1452.7,908.4 L1455.0,910.4 L1457.2,912.4 L1459.5,914.4 L1461.7,916.4 L1464.0,918.3 L1466.3,920.3 L1468.5,922.2 L1470.8,924.2 L1473.1,926.1 L1475.4,928.0 L1477.7,929.9 L1480.1,931.8 L1482.4,933.7 L1484.7,935.6 L1487.1,937.5 L1489.4,939.4 L1491.7,941.2 L1494.1,943.1 L1496.4,945.0 L1498.7,946.9 L1501.0,948.8 L1503.4,950.7 L1505.7,952.6 L1508.0,954.5 L1510.3,956.4 L1512.7,958.3 L1515.0,960.1 L1517.3,962.0 L1519.7,963.9 L1522.0,965.8 L1524.3,967.7 L1526.7,969.6 L1529.0,971.4 L1531.4,973.3 L1533.7,975.1 L1536.1,977.0 L1538.5,978.8 L1540.9,980.6 L1543.3,982.3 L1545.7,984.1 L1548.2,985.8 L1550.6,987.6 L1553.1,989.3 L1555.5,991.0 L1558.0,992.7 L1560.4,994.5 L1562.9,996.2 L1565.4,997.9 L1567.8,999.6 L1570.3,1001.3 L1572.8,1002.9 L1575.3,1004.6 L1577.8,1006.3 L1580.3,1008.0 L1582.7,1009.7 L1585.2,1011.3 L1587.7,1013.0 L1590.2,1014.7 L1592.7,1016.4 L1595.1,1018.1 L1597.6,1019.8 L1600.1,1021.4 L1602.6,1023.1 L1605.1,1024.7 L1607.7,1026.3 L1610.2,1027.9 L1612.8,1029.4 L1615.3,1031.0 L1617.9,1032.5 L1620.5,1034.1 L1623.1,1035.6 L1625.7,1037.1 L1628.3,1038.5 L1630.9,1040.0 L1633.6,1041.4 L1636.2,1042.8 L1638.9,1044.2 L1641.5,1045.6 L1644.2,1047.0 L1646.9,1048.3 L1649.6,1049.7 L1652.2,1051.0 L1654.9,1052.3 L1657.6,1053.6 L1660.3,1055.0 L1663.0,1056.3 L1665.7,1057.6 L1668.4,1058.9 L1671.1,1060.2 L1673.9,1061.4 L1676.6,1062.6 L1679.4,1063.8 L1682.1,1064.9 L1684.9,1065.9 L1687.8,1067.0 L1690.6,1068.0 L1693.4,1069.0 L1696.3,1069.9 L1699.1,1070.8 L1702.0,1071.8 L1704.8,1072.7 L1707.7,1073.6 L1710.6,1074.5 L1713.4,1075.3 L1716.3,1076.2 L1719.2,1077.0 L1722.1,1077.9 L1724.9,1078.7 L1727.8,1079.5 L1730.7,1080.3 L1733.6,1081.1 L1736.5,1081.9 L1739.4,1082.7 L1742.3,1083.5 L1745.2,1084.3 L1748.1,1085.0 L1751.0,1085.8 L1753.9,1086.5 L1756.8,1087.2 L1759.7,1087.9 L1762.7,1088.5 L1765.6,1089.0 L1768.5,1089.6 L1771.5,1090.1 L1774.4,1090.7 L1777.4,1091.2 L1780.4,1091.7 L1783.3,1092.2 L1786.3,1092.6 L1789.2,1093.1 L1792.2,1093.6 L1795.2,1094.1 L1798.1,1094.5 L1801.1,1095.0 L1804.1,1095.4 L1807.0,1095.9 L1810.0,1096.3 L1813.0,1096.7 L1815.9,1097.2 L1818.9,1097.6 L1821.9,1098.0 L1824.8,1098.4 L1827.8,1098.8 L1830.8,1099.1 L1833.8,1099.5 L1836.7,1099.9 L1839.7,1100.2 L1842.7,1100.6 L1845.7,1101.0 L1848.6,1101.3 L1851.6,1101.7 L1854.6,1102.1 L1857.6,1102.4 L1860.5,1102.8 L1863.5,1103.1 L1866.5,1103.4 L1869.5,1103.7 L1872.5,1104.0 L1875.5,1104.3 L1878.4,1104.6 L1881.4,1104.8 L1884.4,1105.1 L1887.4,1105.3 L1890.4,1105.5 L1893.4,1105.7 L1896.4,1105.9 L1899.4,1106.1 L1902.4,1106.2 L1905.4,1106.3 L1908.4,1106.5 L1911.4,1106.6 L1914.3,1106.7 L1917.3,1106.8 L1920.3,1106.9 L1923.3,1107.0 L1926.3,1107.1 L1929.3,1107.2 L1932.3,1107.3 L1935.3,1107.4 L1938.3,1107.5 L1941.3,1107.5 L1944.3,1107.6 L1947.3,1107.7 L1950.3,1107.7 L1953.3,1107.8 L1956.3,1107.8 L1959.3,1107.9 L1962.3,1107.9 L1965.3,1107.9 L1968.3,1108.0 L1971.3,1108.0" stroke="#36338C" stroke-width="10.0" stroke-dasharray="10.5 17.42" stroke-dashoffset="1.5"/>
<path d="M464.3,84.5 L467.3,84.5 L470.3,84.5 L473.3,84.5 L476.3,84.5 L479.3,84.5 L482.3,84.5 L485.3,84.5 L488.3,84.5 L491.3,84.5 L494.3,84.5 L497.2,84.5 L500.2,84.5 L503.2,84.5 L506.2,84.5 L509.2,84.5 L512.2,84.5 L515.2,84.5 L518.2,84.5 L521.2,84.5 L524.2,84.5 L527.2,84.5 L530.2,84.5 L533.2,84.5 L536.2,84.5 L539.2,84.5 L542.2,84.5 L545.2,84.5 L548.2,84.5 L551.2,84.5 L554.2,84.5 L557.2,84.5 L560.2,84.5 L563.1,84.5 L566.1,84.5 L569.1,84.5 L572.1,84.5 L575.1,84.5 L578.2,84.6 L581.2,84.7 L584.1,85.0 L586.8,86.0 L589.4,87.8 L591.7,89.8 L593.8,91.8 L595.8,94.1 L597.6,96.6 L599.2,99.2 L600.7,101.7 L602.0,104.4 L603.1,107.1 L604.2,109.9 L605.2,112.7 L606.2,115.6 L607.1,118.5 L608.1,121.3 L609.0,124.2 L610.0,127.0 L611.1,129.9 L612.1,132.7 L613.1,135.5 L614.2,138.3 L615.2,141.1 L616.3,143.9 L617.3,146.7 L618.3,149.5 L619.2,152.4 L620.2,155.2 L621.2,158.1 L622.1,160.9 L623.0,163.7 L623.9,166.6 L624.8,169.5 L625.7,172.3 L626.5,175.2 L627.3,178.1 L628.1,181.0 L628.8,183.9 L629.5,186.8 L630.2,189.7 L630.9,192.6 L631.5,195.6 L632.1,198.5 L632.8,201.4 L633.4,204.4 L634.0,207.3 L634.6,210.2 L635.2,213.1 L635.8,216.1 L636.4,219.0 L637.0,222.0 L637.6,224.9 L638.2,227.8 L638.7,230.8 L639.3,233.7 L639.9,236.7 L640.5,239.6 L641.0,242.5 L641.6,245.5 L642.1,248.4 L642.7,251.4 L643.2,254.3 L643.8,257.3 L644.4,260.2 L645.0,263.1 L645.6,266.1 L646.3,269.0 L646.9,271.9 L647.6,274.8 L648.3,277.7 L648.9,280.7 L649.6,283.6 L650.3,286.5 L651.0,289.4 L651.6,292.3 L652.3,295.3 L652.9,298.2 L653.6,301.1 L654.2,304.0 L654.9,307.0 L655.5,309.9 L656.2,312.8 L656.8,315.7 L657.5,318.6 L658.1,321.6 L658.8,324.5 L659.5,327.4 L660.2,330.3 L660.8,333.2 L661.5,336.2 L662.2,339.1 L662.8,342.0 L663.5,344.9 L664.2,347.8 L664.9,350.8 L665.5,353.7 L666.2,356.6 L666.9,359.5 L667.5,362.4 L668.2,365.4 L668.9,368.3 L669.5,371.2 L670.2,374.1 L670.9,377.0 L671.5,380.0 L672.2,382.9 L672.9,385.8 L673.5,388.7 L674.2,391.6 L674.9,394.5 L675.6,397.5 L676.4,400.3 L677.1,403.2 L677.9,406.1 L678.8,409.0 L679.6,411.9 L680.4,414.8 L681.3,417.6 L682.1,420.5 L683.0,423.4 L683.9,426.2 L684.8,429.1 L685.6,432.0 L686.5,434.8 L687.4,437.7 L688.3,440.5 L689.2,443.4 L690.2,446.2 L691.1,449.1 L692.0,451.9 L693.0,454.8 L694.0,457.6 L695.0,460.4 L696.0,463.2 L697.0,466.1 L698.0,468.9 L699.1,471.7 L700.1,474.5 L701.2,477.3 L702.3,480.1 L703.3,482.9 L704.4,485.7 L705.5,488.5 L706.6,491.2 L707.8,494.0 L708.9,496.8 L710.0,499.6 L711.1,502.3 L712.2,505.1 L713.4,507.9 L714.5,510.7 L715.6,513.5 L716.7,516.2 L717.8,519.0 L718.9,521.8 L720.0,524.6 L721.2,527.4 L722.3,530.1 L723.4,532.9 L724.5,535.7 L725.6,538.5 L726.7,541.3 L727.8,544.1 L729.0,546.8 L730.1,549.6 L731.2,552.4 L732.4,555.1 L733.6,557.9 L734.8,560.6 L736.0,563.3 L737.3,566.1 L738.6,568.8 L739.8,571.5 L741.1,574.2 L742.4,576.9 L743.7,579.6 L745.0,582.3 L746.2,585.0 L747.5,587.8 L748.7,590.5 L750.0,593.2 L751.2,595.9 L752.5,598.6 L753.7,601.4 L755.0,604.1 L756.2,606.8 L757.5,609.5 L758.7,612.3 L760.0,615.0 L761.2,617.7 L762.5,620.4 L763.7,623.1 L765.0,625.9 L766.2,628.6 L767.5,631.3 L768.7,634.0 L770.0,636.7 L771.2,639.5 L772.5,642.2 L773.7,644.9 L775.0,647.6 L776.2,650.3 L777.5,653.1 L778.7,655.8 L780.0,658.5 L781.2,661.3 L782.4,664.0 L783.6,666.7 L784.9,669.5 L786.1,672.2 L787.3,674.9 L788.5,677.7 L789.7,680.4 L790.9,683.1 L792.2,685.9 L793.4,688.6 L794.6,691.3 L795.9,694.1 L797.1,696.8 L798.3,699.5 L799.5,702.3 L800.8,705.0 L802.0,707.7 L803.2,710.4 L804.5,713.2 L805.7,715.9 L807.0,718.6 L808.2,721.3 L809.5,724.1 L810.7,726.8 L812.0,729.5 L813.2,732.2 L814.5,735.0 L815.7,737.7 L816.9,740.4 L818.2,743.1 L819.4,745.9 L820.7,748.6 L821.9,751.3 L823.2,754.0 L824.4,756.8 L825.6,759.5 L826.9,762.2 L828.1,765.0 L829.3,767.7 L830.5,770.4 L831.8,773.2 L833.0,775.9 L834.2,778.6 L835.4,781.4 L836.7,784.1 L837.9,786.8 L839.1,789.5 L840.4,792.3 L841.6,795.0 L842.9,797.7 L844.1,800.4 L845.4,803.2 L846.6,805.9 L847.8,808.6 L849.1,811.3 L850.3,814.1 L851.5,816.8 L852.7,819.6 L853.9,822.3 L855.1,825.1 L856.3,827.8 L857.5,830.5 L858.7,833.3 L859.9,836.0 L861.1,838.8 L862.3,841.5 L863.5,844.3 L864.7,847.0 L865.9,849.8 L867.1,852.5 L868.2,855.3 L869.4,858.0 L870.5,860.8 L871.7,863.6 L872.7,866.4 L873.8,869.2 L874.9,872.0 L875.9,874.8 L877.0,877.6 L878.0,880.4 L879.0,883.2 L880.0,886.0 L881.1,888.8 L882.1,891.7 L883.1,894.5 L884.1,897.3 L885.1,900.1 L886.2,902.9 L887.2,905.8 L888.1,908.6 L889.1,911.4 L890.1,914.3 L891.0,917.1 L891.9,920.0 L892.8,922.8 L893.6,925.7 L894.5,928.6 L895.4,931.4 L896.2,934.3 L897.0,937.2 L897.9,940.1 L898.7,942.9 L899.5,945.8 L900.4,948.7 L901.2,951.6 L902.0,954.4 L902.8,957.3 L903.7,960.2 L904.5,963.1 L905.3,966.0 L906.1,968.9 L906.9,971.7 L907.7,974.6 L908.5,977.5 L909.3,980.4 L910.1,983.3 L910.9,986.2 L911.7,989.1 L912.5,991.9 L913.3,994.8 L914.0,997.7 L914.8,1000.6 L915.5,1003.5 L916.3,1006.4 L917.0,1009.4 L917.7,1012.3 L918.5,1015.2 L919.3,1018.1 L920.1,1020.9 L920.9,1023.8 L921.8,1026.7 L922.6,1029.5 L923.5,1032.4 L924.5,1035.3 L925.4,1038.1 L926.4,1041.0 L927.4,1043.8 L928.5,1046.6 L929.6,1049.3 L930.8,1052.0 L932.0,1054.8 L933.3,1057.5 L934.7,1060.2 L936.1,1062.9 L937.6,1065.6 L939.1,1068.2 L940.8,1070.7 L942.4,1073.1 L944.1,1075.5 L946.0,1077.7 L948.0,1080.0 L950.0,1082.2 L952.2,1084.4 L954.4,1086.5 L956.7,1088.5 L959.0,1090.5 L961.3,1092.3 L963.7,1094.1 L966.1,1095.7 L968.6,1097.3 L971.2,1098.9 L973.8,1100.3 L976.5,1101.7 L979.1,1103.1 L981.8,1104.5 L984.5,1105.9 L987.2,1107.3 L989.8,1108.7 L992.5,1110.1 L995.2,1111.4 L997.8,1112.8 L1000.5,1114.1 L1003.2,1115.4 L1005.9,1116.7 L1008.6,1118.0 L1011.3,1119.3 L1014.1,1120.5 L1016.8,1121.8 L1019.5,1123.0 L1022.2,1124.3 L1025.0,1125.5 L1027.7,1126.7 L1030.5,1127.9 L1033.3,1129.0 L1036.1,1130.0 L1038.9,1131.0 L1041.7,1132.0 L1044.6,1132.9 L1047.4,1133.8 L1050.3,1134.6 L1053.2,1135.4 L1056.1,1136.2 L1059.0,1137.0 L1061.9,1137.7 L1064.8,1138.4 L1067.7,1139.1 L1070.6,1139.7 L1073.6,1140.4 L1076.5,1141.0 L1079.4,1141.5 L1082.4,1142.1 L1085.3,1142.6 L1088.3,1143.2 L1091.2,1143.7 L1094.2,1144.1 L1097.2,1144.6 L1100.1,1145.1 L1103.1,1145.5 L1106.1,1145.9 L1109.0,1146.3 L1112.0,1146.7 L1115.0,1147.1 L1117.9,1147.5 L1120.9,1147.8 L1123.9,1148.2 L1126.9,1148.5 L1129.8,1148.9 L1132.8,1149.2 L1135.8,1149.5 L1138.8,1149.8 L1141.8,1150.1 L1144.7,1150.3 L1147.7,1150.5 L1150.7,1150.7 L1153.7,1150.9 L1156.7,1151.0" stroke="#98367C" stroke-width="10.0" stroke-dasharray="10.5 17.42" stroke-dashoffset="0"/>
</g>
<rect x="1431" y="118" width="560" height="75.4" fill="#FEFEFD"/>
<path d="M1431,191.4 H1973.5" stroke="#0d0d0d" stroke-width="4" stroke-dasharray="17.4 15.02" stroke-dashoffset="14.98" fill="none"/>
<text x="1449.8" y="173" font-size="50.7">PeakSpan cutoff (90%)</text>
<g stroke="#0d0d0d" fill="none">
<path d="M411.1,81.6 V1154.6" stroke-width="6"/>
<path d="M358,1151.5 H411.1" stroke-width="6.2"/>
<path d="M379.5,1098.2 H411.1" stroke-width="5.4"/>
<path d="M379.5,1044.8 H411.1" stroke-width="5.4"/>
<path d="M379.5,991.5 H411.1" stroke-width="5.4"/>
<path d="M379.5,938.1 H411.1" stroke-width="5.4"/>
<path d="M358,884.8 H411.1" stroke-width="6.2"/>
<path d="M379.5,831.5 H411.1" stroke-width="5.4"/>
<path d="M379.5,778.1 H411.1" stroke-width="5.4"/>
<path d="M379.5,724.8 H411.1" stroke-width="5.4"/>
<path d="M379.5,671.4 H411.1" stroke-width="5.4"/>
<path d="M358,618.1 H411.1" stroke-width="6.2"/>
<path d="M379.5,564.8 H411.1" stroke-width="5.4"/>
<path d="M379.5,511.4 H411.1" stroke-width="5.4"/>
<path d="M379.5,458.1 H411.1" stroke-width="5.4"/>
<path d="M379.5,404.7 H411.1" stroke-width="5.4"/>
<path d="M358,351.4 H411.1" stroke-width="6.2"/>
<path d="M379.5,298.1 H411.1" stroke-width="5.4"/>
<path d="M379.5,244.7 H411.1" stroke-width="5.4"/>
<path d="M379.5,191.4 H411.1" stroke-width="5.4"/>
<path d="M379.5,138.0 H411.1" stroke-width="5.4"/>
<path d="M358,84.7 H411.1" stroke-width="6.2"/>
<path d="M542.7,1204.7 H1974.4" stroke-width="6"/>
<path d="M545.8,1204.7 V1257.4" stroke-width="6.2"/>
<path d="M647.6,1204.7 V1237" stroke-width="5.6"/>
<path d="M749.4,1204.7 V1237" stroke-width="5.6"/>
<path d="M851.3,1204.7 V1237" stroke-width="5.6"/>
<path d="M953.1,1204.7 V1257.4" stroke-width="6.2"/>
<path d="M1054.9,1204.7 V1237" stroke-width="5.6"/>
<path d="M1156.7,1204.7 V1237" stroke-width="5.6"/>
<path d="M1258.5,1204.7 V1237" stroke-width="5.6"/>
<path d="M1360.4,1204.7 V1257.4" stroke-width="6.2"/>
<path d="M1462.2,1204.7 V1237" stroke-width="5.6"/>
<path d="M1564.0,1204.7 V1237" stroke-width="5.6"/>
<path d="M1665.8,1204.7 V1237" stroke-width="5.6"/>
<path d="M1767.6,1204.7 V1257.4" stroke-width="6.2"/>
<path d="M1869.5,1204.7 V1237" stroke-width="5.6"/>
<path d="M1971.3,1204.7 V1237" stroke-width="5.6"/>
</g>
<text x="340" y="1185.7" font-size="96" text-anchor="end">0</text>
<text x="340" y="919.0" font-size="96" text-anchor="end">25</text>
<text x="340" y="652.3" font-size="96" text-anchor="end">50</text>
<text x="340" y="385.6" font-size="96" text-anchor="end">75</text>
<path transform="translate(180.6,118.9) scale(0.04688,-0.04688)" fill="#0d0d0d" d="M763 0H583V1147Q518 1085 412.5 1023Q307 961 223 930V1104Q374 1175 487 1276Q600 1377 647 1472H763Z"/>
<text x="340" y="118.9" font-size="96" text-anchor="end">00</text>
<text x="545.8" y="1344.2" font-size="96" text-anchor="middle">20</text>
<text x="953.1" y="1344.2" font-size="96" text-anchor="middle">40</text>
<text x="1360.4" y="1344.2" font-size="96" text-anchor="middle">60</text>
<text x="1767.6" y="1344.2" font-size="96" text-anchor="middle">80</text>
<text x="1218.5" y="1487" font-size="96" text-anchor="middle">Age (years)</text>
<text transform="translate(109.5,598) rotate(-90) scale(0.991,1)" font-size="96" text-anchor="middle">Relative capacity (%)</text>
<g fill="none">
<path d="M2061,103.6 H2182" stroke="#3B73A6" stroke-width="8.6" stroke-dasharray="31 14.2"/>
<path d="M2061,178.9 H2182" stroke="#1C8046" stroke-width="8.6" stroke-dasharray="31 14.2"/>
<path d="M2058.5,254.2 H2196.3" stroke="#CD4421" stroke-width="8.6"/>
<path d="M2058.5,329.8 H2196.3" stroke="#F08A47" stroke-width="8.6"/>
<path d="M2061.5,403.8 H2192" stroke="#CFC353" stroke-width="8.6" stroke-dasharray="53 14 10 12.5"/>
<path d="M2061.5,477.7 H2192" stroke="#9C3587" stroke-width="8.6" stroke-dasharray="53 14 10 12.5"/>
<path d="M2058.5,552.3 H2196.3" stroke="#4DC0A6" stroke-width="8.6"/>
<path d="M2061.5,626.6 H2192" stroke="#8DCAE6" stroke-width="8.6" stroke-dasharray="53 14 10 12.5"/>
<path d="M2061.5,701.0 H2192" stroke="#A6A338" stroke-width="8.6" stroke-dasharray="53 14 10 12.5"/>
<path d="M2061,775.3 H2185" stroke="#36338C" stroke-width="10.2" stroke-dasharray="11 17.2"/>
<path d="M2061,849.6 H2185" stroke="#98367C" stroke-width="10.2" stroke-dasharray="11 17.2"/>
</g>
<text x="2235" y="122.6" font-size="53.6">Cognitive (Fluid)</text>
<text x="2235" y="197.9" font-size="53.6">Cognitive (Cryst)</text>
<text x="2235" y="273.2" font-size="53.6">Cardiorespiratory</text>
<text x="2235" y="348.8" font-size="53.6">Musculoskeletal</text>
<text x="2235" y="422.8" font-size="53.6">Renal</text>
<text x="2235" y="496.7" font-size="53.6">Endocrine</text>
<text x="2235" y="571.3" font-size="53.6">Sensory</text>
<text x="2235" y="645.6" font-size="53.6">Digestive</text>
<text x="2235" y="720.0" font-size="53.6">Immune</text>
<text x="2235" y="794.3" font-size="53.6">Reproductive Male</text>
<text x="2235" y="868.6" font-size="53.6">Reproductive Female</text>
</svg></body></html>
